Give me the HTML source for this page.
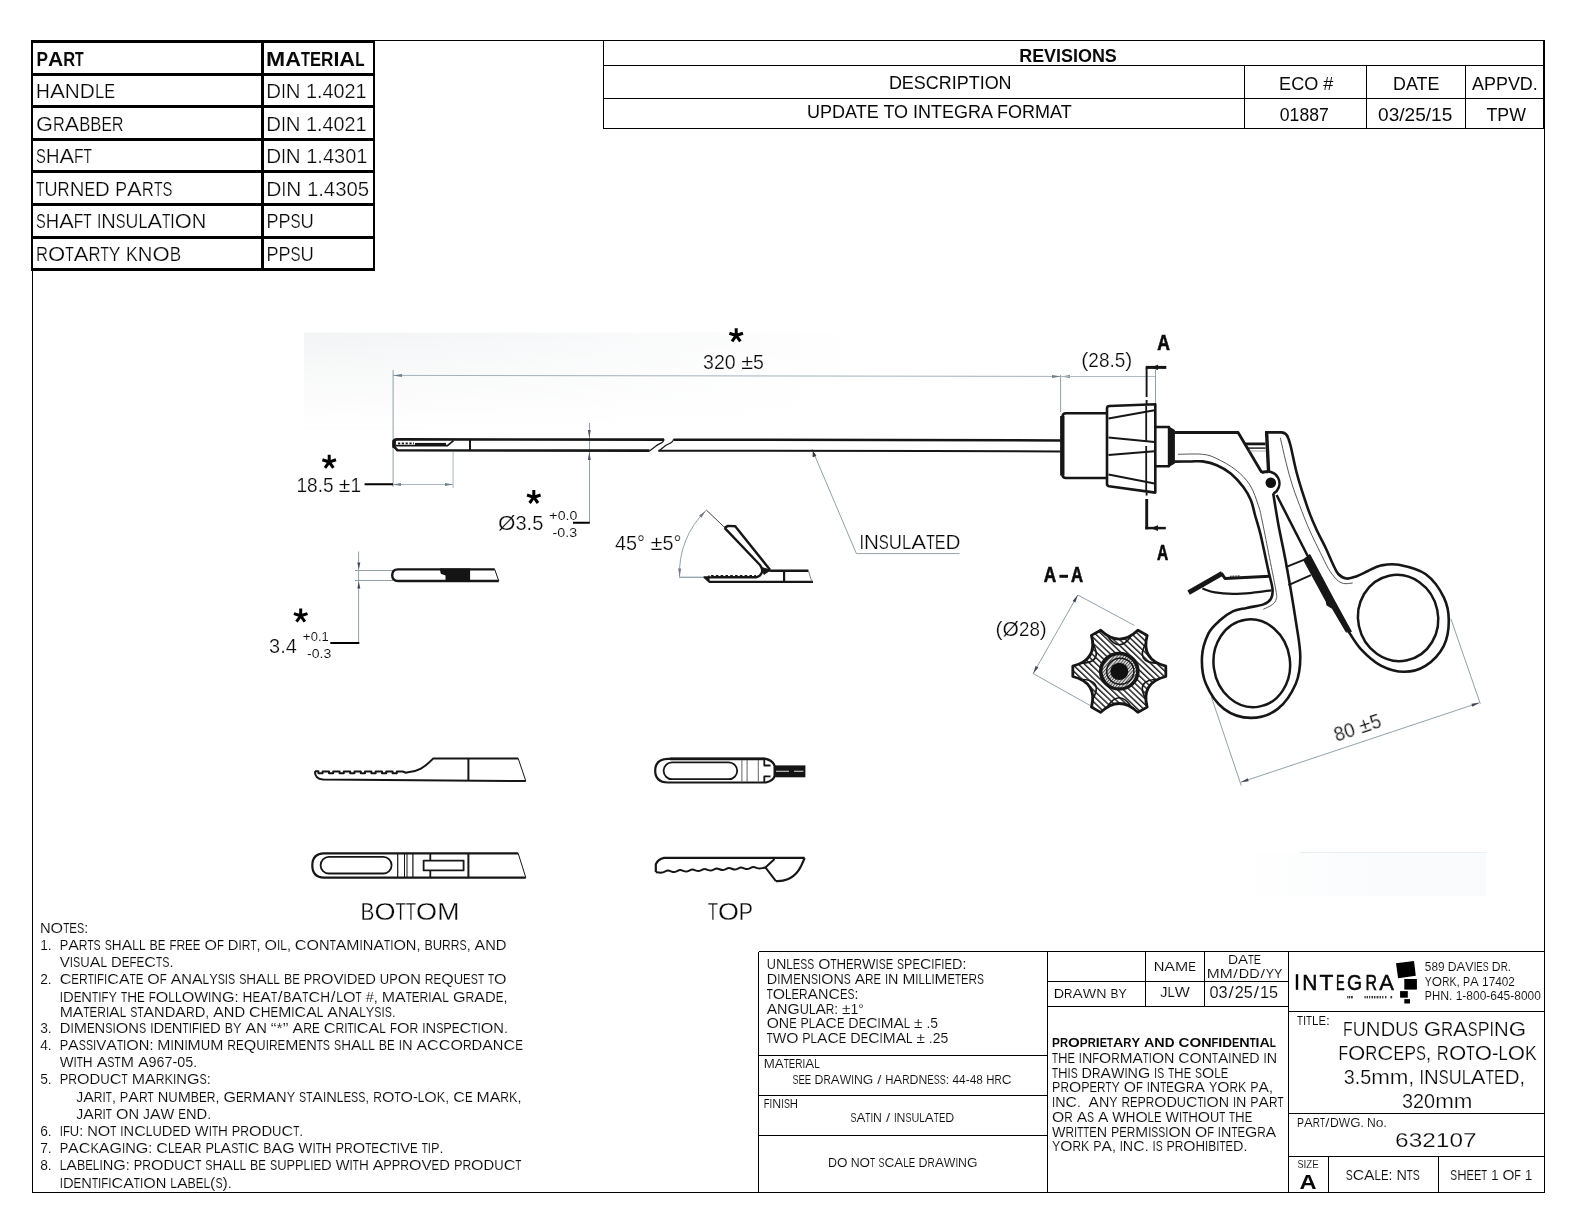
<!DOCTYPE html>
<html><head><meta charset="utf-8"><title>632107 Fundus Grasping Forceps</title>
<style>
html,body{margin:0;padding:0;background:#fff;}
body{width:1584px;height:1224px;overflow:hidden;font-family:"Liberation Sans",sans-serif;}
svg{display:block;will-change:transform;}
svg text{font-family:"Liberation Sans",sans-serif;fill:#0a0a0a;}
</style></head><body>
<svg width="1584" height="1224" viewBox="0 0 1584 1224">
<g id="frame" stroke="#000" fill="none" shape-rendering="crispEdges">
<path d="M374 40.5H1544 M32.5 270V1192.5H1545" stroke-width="1"/>
<path d="M1544.5 40V1193" stroke-width="1"/>
<path d="M1543.5 40V129" stroke-width="1"/>
<g stroke-width="3">
<path d="M31 41.5H375"/>
<path d="M31 74.0H375"/>
<path d="M31 106.6H375"/>
<path d="M31 139.2H375"/>
<path d="M31 171.9H375"/>
<path d="M31 204.5H375"/>
<path d="M31 237.1H375"/>
<path d="M31 269.6H375"/>
<path d="M262.5 40V271"/>
</g>
<path d="M32 40V271 M374 40V271" stroke-width="2"/>
<path d="M603.5 40V128.5 M603.5 65.5H1544 M603.5 98.5H1544 M603.5 128.5H1544 M1244.5 65.5V128.5 M1366.5 65.5V128.5 M1465.5 65.5V128.5" stroke-width="1"/>
<path d="M758.5 951.5V1192.5 M758.5 951.5H1544 M1047.5 951.5V1192.5 M1288.5 951.5V1192.5 M758.5 1055.5H1047.5 M758.5 1095.5H1047.5 M758.5 1135.5H1047.5 M1047.5 981.5H1288.5 M1047.5 1006.5H1288.5 M1145.5 951.5V1006.5 M1204.5 951.5V1006.5 M1288.5 1011.5H1544 M1288.5 1113.5H1544 M1288.5 1156.5H1544 M1328.5 1156.5V1192.5 M1438.5 1156.5V1192.5" stroke-width="1"/>
</g>
<defs><linearGradient id="tint" x1="0" y1="0" x2="1" y2="0"><stop offset="0" stop-color="#f3f4f5"/><stop offset="0.45" stop-color="#f7f8f9"/><stop offset="1" stop-color="#ffffff"/></linearGradient><linearGradient id="tintv" x1="0" y1="0" x2="0" y2="1"><stop offset="0" stop-color="#fff" stop-opacity="0"/><stop offset="1" stop-color="#fff" stop-opacity="1"/></linearGradient><pattern id="hatch" width="4.3" height="4.3" patternUnits="userSpaceOnUse" patternTransform="rotate(-45)"><rect width="4.3" height="4.3" fill="#fff"/><rect width="1.5" height="4.3" fill="#222"/></pattern><pattern id="hatch2" width="2.4" height="2.4" patternUnits="userSpaceOnUse" patternTransform="rotate(40)"><rect width="2.4" height="2.4" fill="#e8e8e8"/><rect width="1" height="2.4" fill="#444"/></pattern></defs>
<rect x="304" y="332.5" width="560" height="95" fill="url(#tint)"/>
<rect x="304" y="332.5" width="560" height="95" fill="url(#tintv)"/>
<linearGradient id="tint2" x1="0" y1="0" x2="1" y2="0"><stop offset="0" stop-color="#ffffff"/><stop offset="0.5" stop-color="#fbfcfd"/><stop offset="1" stop-color="#f8fafc"/></linearGradient>
<rect x="1230" y="853" width="256" height="43" fill="url(#tint2)"/>
<path d="M1300 852.5H1486" stroke="#e9eef3" stroke-width="1"/>
<g id="dims" stroke="#8696a0" stroke-width="0.9" fill="none">
<path d="M393 375.4L1061 376.4" stroke="#9aa9b2"/>
<path d="M393.1 370V487"/>
<path d="M393 375.5l9 -1.6v3.2z M1061 376.5l-9 -1.6v3.2z M1061 376.5l9 -1.6v3.2z" fill="#6d7f88" stroke="none"/>
<path d="M1061 376.5H1155.5" stroke="#a8b5bc"/><path d="M1060.6 375V412 M1155.5 370V404"/>
<path d="M393 484.5H453 M453.1 452V488" stroke="#9fb0b8"/>
<path d="M393 484.5l8 -1.5v3z M453 484.5l-8 -1.5v3z" fill="#6d7f88" stroke="none"/>
<path d="M589.5 423V523"/>
<path d="M589.3 438l-1.5 -8h3z M589.3 452l-1.5 8h3z" fill="#556" stroke="none"/>
<path d="M812 449L856.4 553.6H959.5"/>
<path d="M813.2 452l2.6 3.6l-2.8 1.2z" fill="#333" stroke="#333"/>
<path d="M358.6 551.5V643 M355 570.5H393 M355 580.5H393"/>
<path d="M358.8 569.5l-1.5 -7h3z M358.8 581.5l-1.5 7h3z" fill="#445" stroke="none"/>
<path d="M679.6 577.3A86.5 86.5 0 0 1 706.4 510.1"/>
<path d="M679 577.3H705" stroke-width="1.4" stroke="#9aa9b1"/>
<path d="M706.4 510.1L725 527.8" stroke="#333" stroke-width="0.9"/>
<path d="M705.5 511l-6.5 4.5l2.5 2.3z M679.7 576.5l-1.6 -8h3z" fill="#778" stroke="none"/>
<path d="M1077.8 595L1033.2 673.6 M1077.8 595L1134.5 625.5 M1033.2 673.6L1089.8 705.3"/>
<path d="M1077.8 595l-2.4 7.6l-2.8 -1.6z M1033.2 673.6l2.4 -7.6l2.8 1.6z" fill="#445" stroke="none"/>
<path d="M1240.7 782.3L1479.4 702.7 M1211.4 697L1241.3 785.7 M1450.9 618.8L1480.3 703.7"/>
<path d="M1240.7 782.3l8 -1l-1 -3z M1479.4 702.7l-8 1l1 3z" fill="#445" stroke="none"/>
</g>
<path d="M364.6 484.3H393 M573 522.8H589.8 M330.3 643.1H359.3" stroke="#000" stroke-width="2" fill="none"/>
<g id="instrument" stroke="#161616" fill="none" stroke-linejoin="round">
<path d="M664 439.6L397 439.4Q393.6 439.4 393.6 442.5V446.2L397.5 450.3L649.5 450.6" stroke-width="2.6"/>
<path d="M394.2 440V448" stroke-width="3.4"/>
<path d="M396 445.6H447.5L453.5 440.6" stroke-width="1.8"/>
<path d="M415 444.1H446" stroke-width="2.4"/>
<path d="M398 443.4H414" stroke-width="1.6" stroke-dasharray="2.2 1.6"/>
<path d="M470 440V450" stroke-width="2"/>
<path d="M664 439.2C664 443.5 659 443 656 446L649.5 451" stroke-width="1.2"/>
<path d="M673.5 439.2C673 443.5 668 443.5 665 446L658.5 451.2" stroke-width="1.2"/>
<path d="M673.5 439.7L1061 440.4" stroke-width="2.5"/>
<path d="M658.5 450.7L930 451L1061 451.4" stroke-width="2"/>
<path d="M1107 413.3H1066Q1062.5 413.3 1062.5 417V474.5Q1062.5 478 1066 478H1107" stroke-width="2.6"/>
<path d="M1062.3 416V475.5" stroke-width="4.4"/>
<path d="M1109.5 406L1155.3 404.3V492.6L1109 486.2Q1107 485.8 1107 484V408.4Q1107 406.2 1109.5 406Z" stroke-width="2.6"/>
<path d="M1108.5 418.6L1154.5 410.3 M1108.5 437.4L1154.5 441.9 M1108.5 455.1L1154.5 451.2 M1108.5 474.5L1154.5 483.4" stroke-width="2"/>
<path d="M1146.2 406V441 M1146.2 446V491" stroke-width="1.8"/>
<path d="M1146.6 367.4V397 M1146.6 400V404 M1146.6 492.5V495.5" stroke-width="1.9"/>
<path d="M1146.7 499V529.3" stroke-width="2.9"/>
<path d="M1145.7 367.4H1166.3" stroke-width="3"/>
<path d="M1145.3 528.1H1165.8" stroke-width="2.5"/>
<path d="M1150 367.4l8 -2.6v5.2z M1150.6 528.1l7.4 -2.8v5.6z" fill="#161616" stroke="none"/>
<path d="M1155.3 427H1169V466.2H1155.3" stroke-width="2.4"/>
<path d="M1168.5 426.2L1174.9 430V463.6L1168.5 467.2Z" fill="#161616" stroke="none"/>
<path d="M1174.5 432.5H1238.1L1261.3 471.8H1268" stroke-width="2.8"/>
<path d="M1174.7 461.6C1177.2 461.6 1185.3 461.5 1190.0 461.5C1194.7 461.5 1198.1 460.8 1202.6 461.4C1207.1 462.0 1212.1 463.1 1216.8 465.2C1221.5 467.2 1226.6 470.1 1231.0 473.7C1235.4 477.3 1240.0 482.6 1243.3 487.0C1246.6 491.4 1249.0 495.5 1250.9 500.2C1252.9 504.9 1253.4 509.2 1255.0 515.0C1256.6 520.8 1258.4 525.5 1260.6 534.8C1262.8 544.1 1266.4 561.7 1268.4 570.7C1270.4 579.7 1272.1 584.4 1272.5 589.0C1272.9 593.6 1272.5 596.0 1271.0 598.6C1269.5 601.2 1267.5 602.9 1263.5 604.4C1259.5 605.9 1251.8 606.7 1246.7 607.9C1241.6 609.1 1237.2 609.3 1232.8 611.4C1228.3 613.5 1224.0 616.6 1220.0 620.3C1216.0 624.0 1211.5 627.3 1208.5 633.4C1205.5 639.5 1202.4 648.4 1202.0 656.8C1201.6 665.2 1202.2 675.1 1205.9 683.8C1209.6 692.5 1216.4 703.2 1223.9 708.9C1231.4 714.6 1241.9 717.9 1250.9 717.9C1259.9 717.9 1270.3 714.6 1277.8 708.9C1285.3 703.2 1292.0 692.5 1295.8 683.8C1299.5 675.1 1300.3 667.3 1300.3 656.8C1300.3 646.3 1298.2 636.8 1295.8 620.9C1293.4 605.0 1288.7 577.6 1285.8 561.7C1282.9 545.9 1280.7 537.2 1278.6 525.8C1276.5 514.4 1274.1 498.8 1273.2 493.4" stroke-width="2.6"/>
<path d="M1178.0 454.3C1182.1 454.3 1196.1 453.6 1202.6 454.3C1209.1 455.0 1211.3 456.0 1216.8 458.6C1222.3 461.2 1230.3 465.5 1235.8 469.9C1241.3 474.3 1246.2 479.1 1250.0 485.1C1253.8 491.1 1256.5 500.1 1258.5 505.9C1260.5 511.7 1260.3 512.2 1262.0 520.0C1263.7 527.8 1266.2 541.1 1268.5 552.7C1270.8 564.4 1274.5 582.2 1275.8 589.9C1277.1 597.6 1276.9 596.4 1276.3 598.9C1275.7 601.4 1274.6 602.9 1272.4 604.6C1270.2 606.3 1264.8 608.5 1263.3 609.3" stroke-width="0.9" stroke="#444"/>
<ellipse cx="1251.8" cy="663.3" rx="38.2" ry="44" transform="rotate(-8 1251.8 663.3)" stroke-width="2.5"/>
<path d="M1244.3 443.9H1265.5" stroke-width="2.8"/>
<path d="M1246.8 448.1H1265.5" stroke-width="1.4"/>
<path d="M1248.5 451H1265.5" stroke-width="0.6" stroke="#777"/>
<path d="M1268.6 472L1266.6 432.4" stroke-width="3.4"/>
<path d="M1265 432.4H1281.5Q1286.6 432.8 1288.2 438" stroke-width="2.8"/>
<path d="M1288.2 438.0C1288.6 439.4 1289.3 440.7 1290.7 446.3C1292.1 451.9 1294.5 464.4 1296.4 471.8C1298.3 479.2 1299.7 483.7 1302.0 490.8C1304.3 497.9 1307.5 507.9 1310.0 514.4C1312.5 520.9 1314.1 524.4 1316.7 530.0C1319.3 535.6 1323.0 542.3 1325.7 548.0C1328.4 553.7 1330.8 559.8 1332.9 564.1C1335.0 568.4 1336.0 571.6 1338.3 574.0C1340.5 576.4 1343.6 578.0 1346.4 578.5C1349.2 579.0 1351.8 578.0 1355.4 576.7C1359.0 575.5 1363.8 572.9 1368.0 571.0C1372.2 569.1 1375.8 566.5 1380.9 565.5C1386.0 564.5 1391.3 563.3 1398.8 564.8C1406.3 566.3 1418.3 568.9 1425.8 574.3C1433.3 579.7 1440.0 589.6 1443.8 597.3C1447.6 605.0 1448.8 612.5 1448.8 620.6C1448.8 628.7 1447.6 638.3 1443.8 645.8C1440.0 653.3 1432.4 661.3 1425.8 665.6C1419.2 669.9 1411.7 671.8 1404.2 671.8C1396.7 671.8 1388.1 669.3 1380.9 665.6C1373.7 661.9 1366.5 655.1 1361.1 649.4C1355.7 643.7 1350.6 634.4 1348.5 631.4" stroke-width="2.6"/>
<path d="M1280.3 437.7C1281.2 441.8 1284.0 454.2 1286.0 462.3C1288.0 470.4 1289.9 477.8 1292.6 486.0C1295.3 494.2 1299.2 504.3 1302.0 511.6C1304.8 518.9 1306.5 523.2 1309.5 530.0C1312.5 536.8 1317.1 546.1 1320.3 552.5C1323.5 558.9 1325.7 564.1 1328.4 568.6C1331.1 573.1 1334.0 576.9 1336.5 579.4C1339.0 581.9 1341.0 582.9 1343.7 583.5C1346.4 584.1 1351.2 583.1 1352.7 583.0" stroke-width="0.9" stroke="#444"/>
<ellipse cx="1398.1" cy="618" rx="40" ry="43.2" transform="rotate(-12 1398.1 618)" stroke-width="2.5"/>
<path d="M1262 473A11 11 0 1 1 1273.4 493.6" stroke-width="2.4"/>
<circle cx="1270.8" cy="482.7" r="5.3" fill="#111" stroke="none"/>
<path d="M1276.6 495L1307.7 556" stroke-width="2.5"/>
<path d="M1303.6 559.8L1309.8 554.8L1333.4 599L1351.2 631.5L1346.2 631.8L1332.6 608.6L1327.1 605L1326.2 601.2Z" fill="#161616" stroke-width="1.2"/>
<path d="M1285.8 567.1L1303.8 559.9 M1288.5 585.1L1310.9 575.2" stroke-width="2"/>
<path d="M1188.6 592.6L1222.2 573.4" stroke-width="5"/>
<path d="M1221.4 573.2L1225 578.5L1269.7 576.2" stroke-width="3"/>
<path d="M1230 576.4L1240 575.9" stroke-width="1.4" stroke-dasharray="0.8 0.8"/>
<path d="M1202.3 588.5C1204.4 589.1 1209.9 591.5 1215.0 592.4C1220.1 593.3 1226.7 593.8 1232.9 593.9C1239.1 594.0 1245.6 593.4 1252.0 592.8C1258.4 592.2 1268.2 590.7 1271.5 590.3" stroke-width="2.2"/>
</g>
<g transform="translate(0 671.3) scale(1 0.955) translate(0 -671.3)">
<path d="M1165.8 676.7L1165.8 665.9Q1140.5 659.0 1147.2 633.7L1137.9 628.3Q1119.3 646.8 1100.7 628.3L1091.4 633.7Q1098.1 659.0 1072.8 665.9L1072.8 676.7Q1098.1 683.5 1091.4 708.9L1100.7 714.3Q1119.3 695.8 1137.9 714.3L1147.2 708.9Q1140.5 683.5 1165.8 676.7Z" fill="url(#hatch)" stroke="#161616" stroke-width="2.8" stroke-linejoin="round"/>
<path d="M1158.4 663.0Q1134.5 662.5 1146.1 641.6M1131.7 633.3Q1119.3 653.8 1106.9 633.3M1092.5 641.6Q1104.1 662.5 1080.2 663.0M1080.2 679.6Q1104.1 680.0 1092.5 701.0M1106.9 709.3Q1119.3 688.8 1131.7 709.3M1146.1 701.0Q1134.5 680.0 1158.4 679.6" fill="none" stroke="#161616" stroke-width="1.7"/>
<circle cx="1119.3" cy="671.3" r="18.6" fill="url(#hatch2)" stroke="#161616" stroke-width="3.6"/>
<circle cx="1120.3" cy="671.3" r="13.6" fill="none" stroke="#161616" stroke-width="1.5"/>
<circle cx="1119.3" cy="671.3" r="9" fill="#101010"/>
</g>
<g id="views" stroke="#161616" fill="none" stroke-linejoin="round">
<path d="M494.7 569.4H398Q392.2 569.6 392.2 575.2Q392.2 580.8 398 581H498.8" stroke-width="2.4"/>
<path d="M494.7 569.4L498.8 581" stroke-width="1"/>
<path d="M439.7 568.6H470.1V581.6H445.5V575.6L440.8 573.8Z" fill="#141414" stroke="none"/>
<path d="M724.6 527.9L728 525.9L735.2 526.3L770 569.7" stroke-width="2.4"/>
<path d="M724.6 527.9L760 565Q763 569 762 572Q761 576 756 577.3H712" stroke-width="2.4"/>
<path d="M712 577.3L704.5 577.3L709.4 581.8H813" stroke-width="2.2"/>
<path d="M707 578.5L709 575.6V581Z" fill="#161616" stroke-width="1"/>
<path d="M711 575.7H756" stroke-width="1.6" stroke-dasharray="2.6 2.2"/>
<path d="M763 569L770.5 570.7H808.4" stroke-width="2.4"/>
<path d="M761 567L770 570.5L764 574.5Z" fill="#161616" stroke-width="0.8"/>
<path d="M784.1 570.7V581.8" stroke-width="2.2"/>
<path d="M808.4 570.7L811.8 581.8" stroke-width="0.8" stroke="#667"/>
<path d="M315 771.3H318.4V773.3H322.6V771.5H329.0V773.3H333.2V771.5H339.6V773.3H343.8V771.5H350.2V773.3H354.4V771.5H360.8V773.3H365.0V771.5H371.4V773.3H375.6V771.5H382.0V773.3H386.2V771.5H392.6V773.3H396.8V771.5H402.8L405.8 772.7L408 772.2C418 771.5 424 768 433.3 758.4H518.2" stroke-width="2"/>
<path d="M315 771.3Q314.6 778.5 323 779.6L525.8 781" stroke-width="2"/>
<path d="M518.2 758.4L525.8 781" stroke-width="1"/>
<path d="M468.4 758.4V781" stroke-width="2"/>
<path d="M518.2 853.4H324Q312.3 853.8 312.3 865.5Q312.3 877.2 324 877.6H525.8" stroke-width="2.2"/>
<path d="M518.2 853.4L525.8 877.6" stroke-width="1"/>
<rect x="320.6" y="856.9" width="71" height="16.6" rx="8.3" ry="8.3" stroke-width="1.8"/>
<path d="M397.7 854V877 M412.9 854V877" stroke-width="1.2"/>
<path d="M404.5 854V877 M407 854V877" stroke-width="1"/>
<rect x="423.6" y="860.6" width="40" height="9.8" stroke-width="1.8"/>
<path d="M430.3 854V860.6 M430.3 870.4V877" stroke-width="1.8"/>
<path d="M468.4 853.4V877.6" stroke-width="2"/>
<path d="M766 758.9H668Q655.2 759.3 655.2 770.7Q655.2 782.1 668 782.5H766Q773.5 780.5 774.6 776V766Q773.5 761 766 758.9Z" stroke-width="2.2"/>
<path d="M670 758.9H765" stroke-width="2.8"/>
<rect x="663.6" y="762.4" width="73.6" height="16.8" rx="8.4" ry="8.4" stroke-width="1.8"/>
<path d="M741.9 760V781.5 M747.1 760V781.5 M758.3 760V781.5" stroke-width="0.9" stroke="#555"/>
<path d="M764.3 759.5V765.5H770.5 M764.3 782V776.4H770.5" stroke-width="1.8"/>
<rect x="774.6" y="765.4" width="30.8" height="11.9" fill="#141414" stroke="none"/>
<path d="M776 771.2H789 M794 771.2H803.5" stroke="#ddd" stroke-width="1.1"/>
<path d="M804.6 857.8H664Q658 859 655.8 864.2V872" stroke-width="2.2"/>
<path d="M655.8 872.2C656.8 872.3 659.9 872.9 661.9 872.6C663.9 872.4 665.9 870.7 668.0 870.6C670.0 870.5 672.0 872.2 674.1 872.1C676.1 872.0 678.1 870.2 680.2 870.1C682.2 870.0 684.2 871.7 686.2 871.6C688.3 871.5 690.3 869.7 692.3 869.6C694.4 869.5 696.4 871.2 698.4 871.1C700.5 871.0 702.5 869.1 704.5 869.1C706.5 869.0 708.6 870.7 710.6 870.6C712.6 870.5 714.7 868.6 716.7 868.5C718.7 868.5 720.7 870.2 722.8 870.1C724.8 870.0 726.8 868.1 728.9 868.0C730.9 867.9 732.9 869.7 735.0 869.6C737.0 869.5 739.0 867.6 741.0 867.5C743.1 867.4 745.1 869.2 747.1 869.1C749.2 869.0 751.2 867.1 753.2 867.0C755.3 866.9 757.3 868.5 759.3 868.6C761.3 868.6 764.4 867.6 765.4 867.4" stroke-width="2"/>
<path d="M774.6 858.9L765.4 867.4L775.9 881.1" stroke-width="2"/>
<path d="M775.9 881.1C777.1 881.0 780.6 881.1 783.0 880.6C785.4 880.1 788.0 879.3 790.3 878.0C792.5 876.7 794.8 874.9 796.5 873.0C798.2 871.1 799.4 869.2 800.7 866.7C802.1 864.2 804.0 859.3 804.6 857.8" stroke-width="2.2"/>
</g>
<g id="dimtext">
<g font-size="19.49" transform="translate(0 368.60)" stroke="#fff" stroke-width="0.23"><text x="703.08" textLength="10.88" lengthAdjust="spacingAndGlyphs">3</text><text x="713.96" textLength="10.88" lengthAdjust="spacingAndGlyphs">2</text><text x="724.83" textLength="10.88" lengthAdjust="spacingAndGlyphs">0</text><text x="741.15" textLength="11.90" lengthAdjust="spacingAndGlyphs">±</text><text x="753.04" textLength="10.88" lengthAdjust="spacingAndGlyphs">5</text></g>
<g font-size="19.49" transform="translate(0 491.70)" stroke="#fff" stroke-width="0.23"><text x="296.48" textLength="10.59" lengthAdjust="spacingAndGlyphs">1</text><text x="307.07" textLength="10.59" lengthAdjust="spacingAndGlyphs">8</text><text x="317.66" textLength="5.30" lengthAdjust="spacingAndGlyphs">.</text><text x="322.96" textLength="10.59" lengthAdjust="spacingAndGlyphs">5</text><text x="338.84" textLength="11.58" lengthAdjust="spacingAndGlyphs">±</text><text x="350.43" textLength="10.59" lengthAdjust="spacingAndGlyphs">1</text></g>
<g font-size="19.49" transform="translate(0 529.60)" stroke="#fff" stroke-width="0.23"><text x="497.98" textLength="17.47" lengthAdjust="spacingAndGlyphs">Ø</text><text x="515.45" textLength="11.15" lengthAdjust="spacingAndGlyphs">3</text><text x="526.60" textLength="5.57" lengthAdjust="spacingAndGlyphs">.</text><text x="532.17" textLength="11.15" lengthAdjust="spacingAndGlyphs">5</text></g>
<g font-size="12.62" transform="translate(0 519.50)" stroke="#fff" stroke-width="0.09"><text x="549.06" textLength="8.61" lengthAdjust="spacingAndGlyphs">+</text><text x="557.67" textLength="7.87" lengthAdjust="spacingAndGlyphs">0</text><text x="565.54" textLength="3.94" lengthAdjust="spacingAndGlyphs">.</text><text x="569.47" textLength="7.87" lengthAdjust="spacingAndGlyphs">0</text></g>
<g font-size="12.62" transform="translate(0 536.70)" stroke="#fff" stroke-width="0.09"><text x="552.56" textLength="4.75" lengthAdjust="spacingAndGlyphs">-</text><text x="557.31" textLength="7.93" lengthAdjust="spacingAndGlyphs">0</text><text x="565.24" textLength="3.97" lengthAdjust="spacingAndGlyphs">.</text><text x="569.21" textLength="7.93" lengthAdjust="spacingAndGlyphs">3</text></g>
<g font-size="19.49" transform="translate(0 652.90)" stroke="#fff" stroke-width="0.23"><text x="269.08" textLength="11.09" lengthAdjust="spacingAndGlyphs">3</text><text x="280.18" textLength="5.55" lengthAdjust="spacingAndGlyphs">.</text><text x="285.73" textLength="11.09" lengthAdjust="spacingAndGlyphs">4</text></g>
<g font-size="12.62" transform="translate(0 640.50)" stroke="#fff" stroke-width="0.09"><text x="302.86" textLength="7.88" lengthAdjust="spacingAndGlyphs">+</text><text x="310.74" textLength="7.20" lengthAdjust="spacingAndGlyphs">0</text><text x="317.94" textLength="3.60" lengthAdjust="spacingAndGlyphs">.</text><text x="321.54" textLength="7.20" lengthAdjust="spacingAndGlyphs">1</text></g>
<g font-size="12.62" transform="translate(0 657.90)" stroke="#fff" stroke-width="0.09"><text x="306.96" textLength="4.70" lengthAdjust="spacingAndGlyphs">-</text><text x="311.65" textLength="7.84" lengthAdjust="spacingAndGlyphs">0</text><text x="319.49" textLength="3.92" lengthAdjust="spacingAndGlyphs">.</text><text x="323.41" textLength="7.84" lengthAdjust="spacingAndGlyphs">3</text></g>
<g font-size="19.49" transform="translate(0 550.10)" stroke="#fff" stroke-width="0.23"><text x="614.98" textLength="11.02" lengthAdjust="spacingAndGlyphs">4</text><text x="626.00" textLength="11.02" lengthAdjust="spacingAndGlyphs">5</text><text x="637.02" textLength="7.96" lengthAdjust="spacingAndGlyphs">°</text><text x="650.49" textLength="12.05" lengthAdjust="spacingAndGlyphs">±</text><text x="662.54" textLength="11.02" lengthAdjust="spacingAndGlyphs">5</text><text x="673.56" textLength="7.96" lengthAdjust="spacingAndGlyphs">°</text></g>
<g font-size="19.49" transform="translate(0 548.60)" stroke="#fff" stroke-width="0.23"><text x="859.38" textLength="4.55" lengthAdjust="spacingAndGlyphs">I</text><text x="863.93" textLength="14.89" lengthAdjust="spacingAndGlyphs">N</text><text x="878.82" textLength="10.02" lengthAdjust="spacingAndGlyphs">S</text><text x="888.84" textLength="13.18" lengthAdjust="spacingAndGlyphs">U</text><text x="902.01" textLength="9.29" lengthAdjust="spacingAndGlyphs">L</text><text x="911.31" textLength="14.89" lengthAdjust="spacingAndGlyphs">A</text><text x="926.20" textLength="8.57" lengthAdjust="spacingAndGlyphs">T</text><text x="934.77" textLength="10.78" lengthAdjust="spacingAndGlyphs">E</text><text x="945.55" textLength="14.97" lengthAdjust="spacingAndGlyphs">D</text></g>
<g font-size="19.49" transform="translate(0 367.10)" stroke="#fff" stroke-width="0.23"><text x="1081.28" textLength="7.05" lengthAdjust="spacingAndGlyphs">(</text><text x="1088.33" textLength="10.58" lengthAdjust="spacingAndGlyphs">2</text><text x="1098.91" textLength="10.58" lengthAdjust="spacingAndGlyphs">8</text><text x="1109.50" textLength="5.29" lengthAdjust="spacingAndGlyphs">.</text><text x="1114.79" textLength="10.58" lengthAdjust="spacingAndGlyphs">5</text><text x="1125.37" textLength="7.05" lengthAdjust="spacingAndGlyphs">)</text></g>
<g font-size="19.49" transform="translate(0 635.50)" stroke="#fff" stroke-width="0.23"><text x="995.58" textLength="6.97" lengthAdjust="spacingAndGlyphs">(</text><text x="1002.55" textLength="16.39" lengthAdjust="spacingAndGlyphs">Ø</text><text x="1018.93" textLength="10.46" lengthAdjust="spacingAndGlyphs">2</text><text x="1029.39" textLength="10.46" lengthAdjust="spacingAndGlyphs">8</text><text x="1039.85" textLength="6.97" lengthAdjust="spacingAndGlyphs">)</text></g>
<g transform="translate(1337.3 741.6) rotate(-18.4)"><g font-size="19.49" transform="translate(0 0.00)" stroke="#fff" stroke-width="0.23"><text x="-0.72" textLength="10.54" lengthAdjust="spacingAndGlyphs">8</text><text x="9.83" textLength="10.54" lengthAdjust="spacingAndGlyphs">0</text><text x="25.64" textLength="11.53" lengthAdjust="spacingAndGlyphs">±</text><text x="37.18" textLength="10.54" lengthAdjust="spacingAndGlyphs">5</text></g></g>
<g font-size="23.23" transform="translate(0 919.60)" stroke="#fff" stroke-width="0.28"><text x="360.56" textLength="13.90" lengthAdjust="spacingAndGlyphs">B</text><text x="374.46" textLength="21.04" lengthAdjust="spacingAndGlyphs">O</text><text x="395.51" textLength="10.32" lengthAdjust="spacingAndGlyphs">T</text><text x="405.82" textLength="10.32" lengthAdjust="spacingAndGlyphs">T</text><text x="416.14" textLength="21.04" lengthAdjust="spacingAndGlyphs">O</text><text x="437.18" textLength="22.26" lengthAdjust="spacingAndGlyphs">M</text></g>
<g font-size="23.23" transform="translate(0 919.60)" stroke="#fff" stroke-width="0.28"><text x="707.66" textLength="10.24" lengthAdjust="spacingAndGlyphs">T</text><text x="717.91" textLength="20.90" lengthAdjust="spacingAndGlyphs">O</text><text x="738.80" textLength="14.24" lengthAdjust="spacingAndGlyphs">P</text></g>
<text x="1157.30" y="350.40" font-size="22.22" textLength="12.64" lengthAdjust="spacingAndGlyphs" font-weight="700" stroke="#111" stroke-width="0.7">A</text>
<text x="1157.10" y="559.60" font-size="21.82" textLength="11.23" lengthAdjust="spacingAndGlyphs" font-weight="700" stroke="#111" stroke-width="0.7">A</text>
<text x="1043.70" y="581.70" font-size="22.62" textLength="12.44" lengthAdjust="spacingAndGlyphs" font-weight="700" stroke="#111" stroke-width="0.7">A</text>
<text x="1071.10" y="581.70" font-size="22.62" textLength="12.04" lengthAdjust="spacingAndGlyphs" font-weight="700" stroke="#111" stroke-width="0.7">A</text>
<rect x="1059.4" y="574.8" width="8.6" height="3" fill="#111"/>
</g>
<path d="M736.2 335.5L736.2 328.3M736.2 335.5L729.4 333.3M736.2 335.5L743.0 333.3M736.2 335.5L732.0 341.3M736.2 335.5L740.4 341.3" stroke="#000" stroke-width="3.0" fill="none"/>
<path d="M329.2 462.0L329.2 454.8M329.2 462.0L322.4 459.8M329.2 462.0L336.0 459.8M329.2 462.0L325.0 467.8M329.2 462.0L333.4 467.8" stroke="#000" stroke-width="3.0" fill="none"/>
<path d="M533.8 497.2L533.8 490.0M533.8 497.2L527.0 495.0M533.8 497.2L540.6 495.0M533.8 497.2L529.6 503.0M533.8 497.2L538.0 503.0" stroke="#000" stroke-width="3.0" fill="none"/>
<path d="M300.7 615.8L300.7 608.6M300.7 615.8L293.9 613.6M300.7 615.8L307.5 613.6M300.7 615.8L296.5 621.6M300.7 615.8L304.9 621.6" stroke="#000" stroke-width="3.0" fill="none"/>
<g id="text">
<g font-size="19.9" transform="translate(0 66.00)" font-weight="700"><text x="36.40" textLength="11.52" lengthAdjust="spacingAndGlyphs">P</text><text x="47.92" textLength="15.22" lengthAdjust="spacingAndGlyphs">A</text><text x="63.13" textLength="11.93" lengthAdjust="spacingAndGlyphs">R</text><text x="75.06" textLength="8.64" lengthAdjust="spacingAndGlyphs">T</text></g>
<g font-size="19.9" transform="translate(0 66.00)" font-weight="700"><text x="266.10" textLength="19.17" lengthAdjust="spacingAndGlyphs">M</text><text x="285.27" textLength="15.76" lengthAdjust="spacingAndGlyphs">A</text><text x="301.03" textLength="8.95" lengthAdjust="spacingAndGlyphs">T</text><text x="309.97" textLength="11.08" lengthAdjust="spacingAndGlyphs">E</text><text x="321.05" textLength="12.35" lengthAdjust="spacingAndGlyphs">R</text><text x="333.40" textLength="5.96" lengthAdjust="spacingAndGlyphs">I</text><text x="339.37" textLength="15.76" lengthAdjust="spacingAndGlyphs">A</text><text x="355.13" textLength="9.37" lengthAdjust="spacingAndGlyphs">L</text></g>
<g font-size="19.9" transform="translate(0 97.90)" stroke="#fff" stroke-width="0.24"><text x="36.08" textLength="13.82" lengthAdjust="spacingAndGlyphs">H</text><text x="49.90" textLength="14.98" lengthAdjust="spacingAndGlyphs">A</text><text x="64.88" textLength="14.98" lengthAdjust="spacingAndGlyphs">N</text><text x="79.86" textLength="15.06" lengthAdjust="spacingAndGlyphs">D</text><text x="94.92" textLength="9.35" lengthAdjust="spacingAndGlyphs">L</text><text x="104.27" textLength="10.85" lengthAdjust="spacingAndGlyphs">E</text></g>
<g font-size="19.9" transform="translate(0 97.90)" stroke="#fff" stroke-width="0.24"><text x="266.38" textLength="14.80" lengthAdjust="spacingAndGlyphs">D</text><text x="281.18" textLength="4.50" lengthAdjust="spacingAndGlyphs">I</text><text x="285.68" textLength="14.72" lengthAdjust="spacingAndGlyphs">N</text><text x="305.91" textLength="11.02" lengthAdjust="spacingAndGlyphs">1</text><text x="316.93" textLength="5.51" lengthAdjust="spacingAndGlyphs">.</text><text x="322.44" textLength="11.02" lengthAdjust="spacingAndGlyphs">4</text><text x="333.46" textLength="11.02" lengthAdjust="spacingAndGlyphs">0</text><text x="344.48" textLength="11.02" lengthAdjust="spacingAndGlyphs">2</text><text x="355.50" textLength="11.02" lengthAdjust="spacingAndGlyphs">1</text></g>
<g font-size="19.9" transform="translate(0 130.70)" stroke="#fff" stroke-width="0.24"><text x="36.08" textLength="16.93" lengthAdjust="spacingAndGlyphs">G</text><text x="53.01" textLength="11.78" lengthAdjust="spacingAndGlyphs">R</text><text x="64.79" textLength="14.36" lengthAdjust="spacingAndGlyphs">A</text><text x="79.15" textLength="11.14" lengthAdjust="spacingAndGlyphs">B</text><text x="90.29" textLength="11.14" lengthAdjust="spacingAndGlyphs">B</text><text x="101.44" textLength="10.40" lengthAdjust="spacingAndGlyphs">E</text><text x="111.84" textLength="11.78" lengthAdjust="spacingAndGlyphs">R</text></g>
<g font-size="19.9" transform="translate(0 130.70)" stroke="#fff" stroke-width="0.24"><text x="266.38" textLength="14.80" lengthAdjust="spacingAndGlyphs">D</text><text x="281.18" textLength="4.50" lengthAdjust="spacingAndGlyphs">I</text><text x="285.68" textLength="14.72" lengthAdjust="spacingAndGlyphs">N</text><text x="305.91" textLength="11.02" lengthAdjust="spacingAndGlyphs">1</text><text x="316.93" textLength="5.51" lengthAdjust="spacingAndGlyphs">.</text><text x="322.44" textLength="11.02" lengthAdjust="spacingAndGlyphs">4</text><text x="333.46" textLength="11.02" lengthAdjust="spacingAndGlyphs">0</text><text x="344.48" textLength="11.02" lengthAdjust="spacingAndGlyphs">2</text><text x="355.50" textLength="11.02" lengthAdjust="spacingAndGlyphs">1</text></g>
<g font-size="19.9" transform="translate(0 163.10)" stroke="#fff" stroke-width="0.24"><text x="36.08" textLength="9.84" lengthAdjust="spacingAndGlyphs">S</text><text x="45.92" textLength="13.49" lengthAdjust="spacingAndGlyphs">H</text><text x="59.41" textLength="14.62" lengthAdjust="spacingAndGlyphs">A</text><text x="74.02" textLength="9.58" lengthAdjust="spacingAndGlyphs">F</text><text x="83.60" textLength="8.41" lengthAdjust="spacingAndGlyphs">T</text></g>
<g font-size="19.9" transform="translate(0 163.10)" stroke="#fff" stroke-width="0.24"><text x="266.38" textLength="14.93" lengthAdjust="spacingAndGlyphs">D</text><text x="281.31" textLength="4.54" lengthAdjust="spacingAndGlyphs">I</text><text x="285.85" textLength="14.85" lengthAdjust="spacingAndGlyphs">N</text><text x="306.26" textLength="11.12" lengthAdjust="spacingAndGlyphs">1</text><text x="317.38" textLength="5.56" lengthAdjust="spacingAndGlyphs">.</text><text x="322.94" textLength="11.12" lengthAdjust="spacingAndGlyphs">4</text><text x="334.06" textLength="11.12" lengthAdjust="spacingAndGlyphs">3</text><text x="345.18" textLength="11.12" lengthAdjust="spacingAndGlyphs">0</text><text x="356.30" textLength="11.12" lengthAdjust="spacingAndGlyphs">1</text></g>
<g font-size="19.9" transform="translate(0 195.50)" stroke="#fff" stroke-width="0.24"><text x="36.08" textLength="8.48" lengthAdjust="spacingAndGlyphs">T</text><text x="44.56" textLength="13.03" lengthAdjust="spacingAndGlyphs">U</text><text x="57.59" textLength="12.08" lengthAdjust="spacingAndGlyphs">R</text><text x="69.66" textLength="14.72" lengthAdjust="spacingAndGlyphs">N</text><text x="84.38" textLength="10.66" lengthAdjust="spacingAndGlyphs">E</text><text x="95.05" textLength="14.80" lengthAdjust="spacingAndGlyphs">D</text><text x="115.36" textLength="11.78" lengthAdjust="spacingAndGlyphs">P</text><text x="127.14" textLength="14.72" lengthAdjust="spacingAndGlyphs">A</text><text x="141.86" textLength="12.08" lengthAdjust="spacingAndGlyphs">R</text><text x="153.94" textLength="8.48" lengthAdjust="spacingAndGlyphs">T</text><text x="162.41" textLength="9.91" lengthAdjust="spacingAndGlyphs">S</text></g>
<g font-size="19.9" transform="translate(0 195.50)" stroke="#fff" stroke-width="0.24"><text x="266.38" textLength="15.18" lengthAdjust="spacingAndGlyphs">D</text><text x="281.57" textLength="4.61" lengthAdjust="spacingAndGlyphs">I</text><text x="286.18" textLength="15.10" lengthAdjust="spacingAndGlyphs">N</text><text x="306.93" textLength="11.31" lengthAdjust="spacingAndGlyphs">1</text><text x="318.24" textLength="5.65" lengthAdjust="spacingAndGlyphs">.</text><text x="323.89" textLength="11.31" lengthAdjust="spacingAndGlyphs">4</text><text x="335.20" textLength="11.31" lengthAdjust="spacingAndGlyphs">3</text><text x="346.51" textLength="11.31" lengthAdjust="spacingAndGlyphs">0</text><text x="357.82" textLength="11.31" lengthAdjust="spacingAndGlyphs">5</text></g>
<g font-size="19.9" transform="translate(0 228.40)" stroke="#fff" stroke-width="0.24"><text x="36.08" textLength="9.75" lengthAdjust="spacingAndGlyphs">S</text><text x="45.83" textLength="13.37" lengthAdjust="spacingAndGlyphs">H</text><text x="59.20" textLength="14.49" lengthAdjust="spacingAndGlyphs">A</text><text x="73.69" textLength="9.49" lengthAdjust="spacingAndGlyphs">F</text><text x="83.18" textLength="8.34" lengthAdjust="spacingAndGlyphs">T</text><text x="96.94" textLength="4.42" lengthAdjust="spacingAndGlyphs">I</text><text x="101.37" textLength="14.49" lengthAdjust="spacingAndGlyphs">N</text><text x="115.86" textLength="9.75" lengthAdjust="spacingAndGlyphs">S</text><text x="125.61" textLength="12.82" lengthAdjust="spacingAndGlyphs">U</text><text x="138.43" textLength="9.04" lengthAdjust="spacingAndGlyphs">L</text><text x="147.47" textLength="14.49" lengthAdjust="spacingAndGlyphs">A</text><text x="161.96" textLength="8.34" lengthAdjust="spacingAndGlyphs">T</text><text x="170.30" textLength="4.42" lengthAdjust="spacingAndGlyphs">I</text><text x="174.72" textLength="17.01" lengthAdjust="spacingAndGlyphs">O</text><text x="191.74" textLength="14.49" lengthAdjust="spacingAndGlyphs">N</text></g>
<g font-size="19.9" transform="translate(0 228.40)" stroke="#fff" stroke-width="0.24"><text x="266.38" textLength="12.04" lengthAdjust="spacingAndGlyphs">P</text><text x="278.42" textLength="12.04" lengthAdjust="spacingAndGlyphs">P</text><text x="290.47" textLength="10.13" lengthAdjust="spacingAndGlyphs">S</text><text x="300.60" textLength="13.32" lengthAdjust="spacingAndGlyphs">U</text></g>
<g font-size="19.9" transform="translate(0 261.20)" stroke="#fff" stroke-width="0.24"><text x="36.08" textLength="12.02" lengthAdjust="spacingAndGlyphs">R</text><text x="48.10" textLength="17.21" lengthAdjust="spacingAndGlyphs">O</text><text x="65.31" textLength="8.44" lengthAdjust="spacingAndGlyphs">T</text><text x="73.75" textLength="14.66" lengthAdjust="spacingAndGlyphs">A</text><text x="88.41" textLength="12.02" lengthAdjust="spacingAndGlyphs">R</text><text x="100.43" textLength="8.44" lengthAdjust="spacingAndGlyphs">T</text><text x="108.87" textLength="11.73" lengthAdjust="spacingAndGlyphs">Y</text><text x="126.08" textLength="11.71" lengthAdjust="spacingAndGlyphs">K</text><text x="137.78" textLength="14.66" lengthAdjust="spacingAndGlyphs">N</text><text x="152.44" textLength="17.21" lengthAdjust="spacingAndGlyphs">O</text><text x="169.65" textLength="11.37" lengthAdjust="spacingAndGlyphs">B</text></g>
<g font-size="19.9" transform="translate(0 261.20)" stroke="#fff" stroke-width="0.24"><text x="266.38" textLength="12.04" lengthAdjust="spacingAndGlyphs">P</text><text x="278.42" textLength="12.04" lengthAdjust="spacingAndGlyphs">P</text><text x="290.47" textLength="10.13" lengthAdjust="spacingAndGlyphs">S</text><text x="300.60" textLength="13.32" lengthAdjust="spacingAndGlyphs">U</text></g>
<text x="1019.20" y="61.50" font-size="17.78" textLength="97.62" lengthAdjust="spacingAndGlyphs" font-weight="700">REVISIONS</text>
<text x="888.90" y="89.00" font-size="18.18" textLength="122.68" lengthAdjust="spacingAndGlyphs">DESCRIPTION</text>
<text x="807.10" y="117.70" font-size="18.18" textLength="264.61" lengthAdjust="spacingAndGlyphs">UPDATE TO INTEGRA FORMAT</text>
<text x="1279.10" y="89.90" font-size="18.18" textLength="54.22" lengthAdjust="spacingAndGlyphs">ECO #</text>
<text x="1393.10" y="89.90" font-size="18.18" textLength="46.26" lengthAdjust="spacingAndGlyphs">DATE</text>
<text x="1472.00" y="89.90" font-size="18.18" textLength="65.77" lengthAdjust="spacingAndGlyphs">APPVD.</text>
<text x="1279.80" y="120.50" font-size="18.18" textLength="49.02" lengthAdjust="spacingAndGlyphs">01887</text>
<text x="1378.10" y="120.50" font-size="18.18" textLength="74.26" lengthAdjust="spacingAndGlyphs">03/25/15</text>
<text x="1486.50" y="120.50" font-size="18.18" textLength="39.34" lengthAdjust="spacingAndGlyphs">TPW</text>
<g font-size="13.74" transform="translate(0 968.90)" stroke="#fff" stroke-width="0.10"><text x="766.75" textLength="9.20" lengthAdjust="spacingAndGlyphs">U</text><text x="775.95" textLength="10.39" lengthAdjust="spacingAndGlyphs">N</text><text x="786.34" textLength="6.49" lengthAdjust="spacingAndGlyphs">L</text><text x="792.82" textLength="7.52" lengthAdjust="spacingAndGlyphs">E</text><text x="800.35" textLength="6.99" lengthAdjust="spacingAndGlyphs">S</text><text x="807.34" textLength="6.99" lengthAdjust="spacingAndGlyphs">S</text><text x="818.22" textLength="12.20" lengthAdjust="spacingAndGlyphs">O</text><text x="830.42" textLength="5.98" lengthAdjust="spacingAndGlyphs">T</text><text x="836.40" textLength="9.59" lengthAdjust="spacingAndGlyphs">H</text><text x="845.99" textLength="7.52" lengthAdjust="spacingAndGlyphs">E</text><text x="853.51" textLength="8.52" lengthAdjust="spacingAndGlyphs">R</text><text x="862.04" textLength="13.48" lengthAdjust="spacingAndGlyphs">W</text><text x="875.51" textLength="3.17" lengthAdjust="spacingAndGlyphs">I</text><text x="878.69" textLength="6.99" lengthAdjust="spacingAndGlyphs">S</text><text x="885.68" textLength="7.52" lengthAdjust="spacingAndGlyphs">E</text><text x="897.09" textLength="6.99" lengthAdjust="spacingAndGlyphs">S</text><text x="904.08" textLength="8.31" lengthAdjust="spacingAndGlyphs">P</text><text x="912.39" textLength="7.52" lengthAdjust="spacingAndGlyphs">E</text><text x="919.92" textLength="11.41" lengthAdjust="spacingAndGlyphs">C</text><text x="931.33" textLength="3.17" lengthAdjust="spacingAndGlyphs">I</text><text x="934.51" textLength="6.81" lengthAdjust="spacingAndGlyphs">F</text><text x="941.31" textLength="3.17" lengthAdjust="spacingAndGlyphs">I</text><text x="944.49" textLength="7.52" lengthAdjust="spacingAndGlyphs">E</text><text x="952.01" textLength="10.45" lengthAdjust="spacingAndGlyphs">D</text><text x="962.46" textLength="3.89" lengthAdjust="spacingAndGlyphs">:</text></g>
<g font-size="13.74" transform="translate(0 983.80)" stroke="#fff" stroke-width="0.10"><text x="766.75" textLength="10.43" lengthAdjust="spacingAndGlyphs">D</text><text x="777.18" textLength="3.17" lengthAdjust="spacingAndGlyphs">I</text><text x="780.35" textLength="12.88" lengthAdjust="spacingAndGlyphs">M</text><text x="793.23" textLength="7.51" lengthAdjust="spacingAndGlyphs">E</text><text x="800.75" textLength="10.37" lengthAdjust="spacingAndGlyphs">N</text><text x="811.12" textLength="6.98" lengthAdjust="spacingAndGlyphs">S</text><text x="818.10" textLength="3.17" lengthAdjust="spacingAndGlyphs">I</text><text x="821.27" textLength="12.18" lengthAdjust="spacingAndGlyphs">O</text><text x="833.45" textLength="10.37" lengthAdjust="spacingAndGlyphs">N</text><text x="843.83" textLength="6.98" lengthAdjust="spacingAndGlyphs">S</text><text x="854.69" textLength="10.37" lengthAdjust="spacingAndGlyphs">A</text><text x="865.07" textLength="8.51" lengthAdjust="spacingAndGlyphs">R</text><text x="873.58" textLength="7.51" lengthAdjust="spacingAndGlyphs">E</text><text x="884.97" textLength="3.17" lengthAdjust="spacingAndGlyphs">I</text><text x="888.14" textLength="10.37" lengthAdjust="spacingAndGlyphs">N</text><text x="902.40" textLength="12.88" lengthAdjust="spacingAndGlyphs">M</text><text x="915.28" textLength="3.17" lengthAdjust="spacingAndGlyphs">I</text><text x="918.45" textLength="6.48" lengthAdjust="spacingAndGlyphs">L</text><text x="924.93" textLength="6.48" lengthAdjust="spacingAndGlyphs">L</text><text x="931.40" textLength="3.17" lengthAdjust="spacingAndGlyphs">I</text><text x="934.57" textLength="12.88" lengthAdjust="spacingAndGlyphs">M</text><text x="947.46" textLength="7.51" lengthAdjust="spacingAndGlyphs">E</text><text x="954.97" textLength="5.97" lengthAdjust="spacingAndGlyphs">T</text><text x="960.94" textLength="7.51" lengthAdjust="spacingAndGlyphs">E</text><text x="968.46" textLength="8.51" lengthAdjust="spacingAndGlyphs">R</text><text x="976.97" textLength="6.98" lengthAdjust="spacingAndGlyphs">S</text></g>
<g font-size="13.74" transform="translate(0 998.90)" stroke="#fff" stroke-width="0.10"><text x="766.75" textLength="6.00" lengthAdjust="spacingAndGlyphs">T</text><text x="772.75" textLength="12.24" lengthAdjust="spacingAndGlyphs">O</text><text x="784.99" textLength="6.51" lengthAdjust="spacingAndGlyphs">L</text><text x="791.50" textLength="7.55" lengthAdjust="spacingAndGlyphs">E</text><text x="799.04" textLength="8.55" lengthAdjust="spacingAndGlyphs">R</text><text x="807.59" textLength="10.42" lengthAdjust="spacingAndGlyphs">A</text><text x="818.01" textLength="10.42" lengthAdjust="spacingAndGlyphs">N</text><text x="828.43" textLength="11.45" lengthAdjust="spacingAndGlyphs">C</text><text x="839.88" textLength="7.55" lengthAdjust="spacingAndGlyphs">E</text><text x="847.43" textLength="7.01" lengthAdjust="spacingAndGlyphs">S</text><text x="854.44" textLength="3.90" lengthAdjust="spacingAndGlyphs">:</text></g>
<g font-size="13.74" transform="translate(0 1013.70)" stroke="#fff" stroke-width="0.10"><text x="766.75" textLength="10.38" lengthAdjust="spacingAndGlyphs">A</text><text x="777.13" textLength="10.38" lengthAdjust="spacingAndGlyphs">N</text><text x="787.51" textLength="12.23" lengthAdjust="spacingAndGlyphs">G</text><text x="799.74" textLength="9.19" lengthAdjust="spacingAndGlyphs">U</text><text x="808.93" textLength="6.48" lengthAdjust="spacingAndGlyphs">L</text><text x="815.41" textLength="10.38" lengthAdjust="spacingAndGlyphs">A</text><text x="825.78" textLength="8.51" lengthAdjust="spacingAndGlyphs">R</text><text x="834.30" textLength="3.88" lengthAdjust="spacingAndGlyphs">:</text><text x="842.07" textLength="8.50" lengthAdjust="spacingAndGlyphs">±</text><text x="850.57" textLength="7.77" lengthAdjust="spacingAndGlyphs">1</text><text x="858.34" textLength="5.61" lengthAdjust="spacingAndGlyphs">°</text></g>
<g font-size="13.74" transform="translate(0 1028.00)" stroke="#fff" stroke-width="0.10"><text x="766.75" textLength="12.13" lengthAdjust="spacingAndGlyphs">O</text><text x="778.88" textLength="10.33" lengthAdjust="spacingAndGlyphs">N</text><text x="789.21" textLength="7.48" lengthAdjust="spacingAndGlyphs">E</text><text x="800.56" textLength="8.26" lengthAdjust="spacingAndGlyphs">P</text><text x="808.82" textLength="6.45" lengthAdjust="spacingAndGlyphs">L</text><text x="815.27" textLength="10.33" lengthAdjust="spacingAndGlyphs">A</text><text x="825.60" textLength="11.35" lengthAdjust="spacingAndGlyphs">C</text><text x="836.94" textLength="7.48" lengthAdjust="spacingAndGlyphs">E</text><text x="848.29" textLength="10.38" lengthAdjust="spacingAndGlyphs">D</text><text x="858.67" textLength="7.48" lengthAdjust="spacingAndGlyphs">E</text><text x="866.16" textLength="11.35" lengthAdjust="spacingAndGlyphs">C</text><text x="877.50" textLength="3.15" lengthAdjust="spacingAndGlyphs">I</text><text x="880.66" textLength="12.83" lengthAdjust="spacingAndGlyphs">M</text><text x="893.48" textLength="10.33" lengthAdjust="spacingAndGlyphs">A</text><text x="903.81" textLength="6.45" lengthAdjust="spacingAndGlyphs">L</text><text x="914.13" textLength="8.46" lengthAdjust="spacingAndGlyphs">±</text><text x="926.45" textLength="3.87" lengthAdjust="spacingAndGlyphs">.</text><text x="930.32" textLength="7.73" lengthAdjust="spacingAndGlyphs">5</text></g>
<g font-size="13.74" transform="translate(0 1042.80)" stroke="#fff" stroke-width="0.10"><text x="766.75" textLength="5.98" lengthAdjust="spacingAndGlyphs">T</text><text x="772.73" textLength="13.47" lengthAdjust="spacingAndGlyphs">W</text><text x="786.20" textLength="12.19" lengthAdjust="spacingAndGlyphs">O</text><text x="802.27" textLength="8.31" lengthAdjust="spacingAndGlyphs">P</text><text x="810.58" textLength="6.48" lengthAdjust="spacingAndGlyphs">L</text><text x="817.06" textLength="10.38" lengthAdjust="spacingAndGlyphs">A</text><text x="827.44" textLength="11.41" lengthAdjust="spacingAndGlyphs">C</text><text x="838.85" textLength="7.52" lengthAdjust="spacingAndGlyphs">E</text><text x="850.25" textLength="10.44" lengthAdjust="spacingAndGlyphs">D</text><text x="860.69" textLength="7.52" lengthAdjust="spacingAndGlyphs">E</text><text x="868.21" textLength="11.41" lengthAdjust="spacingAndGlyphs">C</text><text x="879.62" textLength="3.17" lengthAdjust="spacingAndGlyphs">I</text><text x="882.79" textLength="12.89" lengthAdjust="spacingAndGlyphs">M</text><text x="895.68" textLength="10.38" lengthAdjust="spacingAndGlyphs">A</text><text x="906.06" textLength="6.48" lengthAdjust="spacingAndGlyphs">L</text><text x="916.43" textLength="8.50" lengthAdjust="spacingAndGlyphs">±</text><text x="928.82" textLength="3.89" lengthAdjust="spacingAndGlyphs">.</text><text x="932.71" textLength="7.77" lengthAdjust="spacingAndGlyphs">2</text><text x="940.48" textLength="7.77" lengthAdjust="spacingAndGlyphs">5</text></g>
<g font-size="11.92" transform="translate(0 1068.10)" stroke="#fff" stroke-width="0.08"><text x="763.76" textLength="11.05" lengthAdjust="spacingAndGlyphs">M</text><text x="774.81" textLength="8.90" lengthAdjust="spacingAndGlyphs">A</text><text x="783.71" textLength="5.12" lengthAdjust="spacingAndGlyphs">T</text><text x="788.83" textLength="6.45" lengthAdjust="spacingAndGlyphs">E</text><text x="795.27" textLength="7.30" lengthAdjust="spacingAndGlyphs">R</text><text x="802.57" textLength="2.72" lengthAdjust="spacingAndGlyphs">I</text><text x="805.29" textLength="8.90" lengthAdjust="spacingAndGlyphs">A</text><text x="814.19" textLength="5.56" lengthAdjust="spacingAndGlyphs">L</text></g>
<g font-size="12.12" transform="translate(0 1084.10)" stroke="#fff" stroke-width="0.08"><text x="792.46" textLength="5.98" lengthAdjust="spacingAndGlyphs">S</text><text x="798.43" textLength="6.43" lengthAdjust="spacingAndGlyphs">E</text><text x="804.87" textLength="6.43" lengthAdjust="spacingAndGlyphs">E</text><text x="814.62" textLength="8.93" lengthAdjust="spacingAndGlyphs">D</text><text x="823.55" textLength="7.28" lengthAdjust="spacingAndGlyphs">R</text><text x="830.84" textLength="8.88" lengthAdjust="spacingAndGlyphs">A</text><text x="839.72" textLength="11.52" lengthAdjust="spacingAndGlyphs">W</text><text x="851.24" textLength="2.71" lengthAdjust="spacingAndGlyphs">I</text><text x="853.95" textLength="8.88" lengthAdjust="spacingAndGlyphs">N</text><text x="862.83" textLength="10.47" lengthAdjust="spacingAndGlyphs">G</text><text x="877.19" textLength="4.11" lengthAdjust="spacingAndGlyphs">/</text><text x="885.19" textLength="8.20" lengthAdjust="spacingAndGlyphs">H</text><text x="893.39" textLength="8.88" lengthAdjust="spacingAndGlyphs">A</text><text x="902.27" textLength="7.28" lengthAdjust="spacingAndGlyphs">R</text><text x="909.56" textLength="8.93" lengthAdjust="spacingAndGlyphs">D</text><text x="918.49" textLength="8.88" lengthAdjust="spacingAndGlyphs">N</text><text x="927.37" textLength="6.43" lengthAdjust="spacingAndGlyphs">E</text><text x="933.80" textLength="5.98" lengthAdjust="spacingAndGlyphs">S</text><text x="939.78" textLength="5.98" lengthAdjust="spacingAndGlyphs">S</text><text x="945.75" textLength="3.32" lengthAdjust="spacingAndGlyphs">:</text><text x="952.40" textLength="6.65" lengthAdjust="spacingAndGlyphs">4</text><text x="959.05" textLength="6.65" lengthAdjust="spacingAndGlyphs">4</text><text x="965.70" textLength="3.98" lengthAdjust="spacingAndGlyphs">-</text><text x="969.68" textLength="6.65" lengthAdjust="spacingAndGlyphs">4</text><text x="976.33" textLength="6.65" lengthAdjust="spacingAndGlyphs">8</text><text x="986.31" textLength="8.20" lengthAdjust="spacingAndGlyphs">H</text><text x="994.50" textLength="7.28" lengthAdjust="spacingAndGlyphs">R</text><text x="1001.79" textLength="9.76" lengthAdjust="spacingAndGlyphs">C</text></g>
<g font-size="11.92" transform="translate(0 1108.30)" stroke="#fff" stroke-width="0.08"><text x="763.76" textLength="5.82" lengthAdjust="spacingAndGlyphs">F</text><text x="769.58" textLength="2.71" lengthAdjust="spacingAndGlyphs">I</text><text x="772.29" textLength="8.88" lengthAdjust="spacingAndGlyphs">N</text><text x="781.16" textLength="2.71" lengthAdjust="spacingAndGlyphs">I</text><text x="783.88" textLength="5.97" lengthAdjust="spacingAndGlyphs">S</text><text x="789.85" textLength="8.19" lengthAdjust="spacingAndGlyphs">H</text></g>
<g font-size="12.12" transform="translate(0 1122.30)" stroke="#fff" stroke-width="0.08"><text x="850.46" textLength="5.98" lengthAdjust="spacingAndGlyphs">S</text><text x="856.43" textLength="8.88" lengthAdjust="spacingAndGlyphs">A</text><text x="865.32" textLength="5.11" lengthAdjust="spacingAndGlyphs">T</text><text x="870.43" textLength="2.71" lengthAdjust="spacingAndGlyphs">I</text><text x="873.14" textLength="8.88" lengthAdjust="spacingAndGlyphs">N</text><text x="885.91" textLength="4.11" lengthAdjust="spacingAndGlyphs">/</text><text x="893.91" textLength="2.71" lengthAdjust="spacingAndGlyphs">I</text><text x="896.63" textLength="8.88" lengthAdjust="spacingAndGlyphs">N</text><text x="905.51" textLength="5.98" lengthAdjust="spacingAndGlyphs">S</text><text x="911.48" textLength="7.86" lengthAdjust="spacingAndGlyphs">U</text><text x="919.34" textLength="5.54" lengthAdjust="spacingAndGlyphs">L</text><text x="924.89" textLength="8.88" lengthAdjust="spacingAndGlyphs">A</text><text x="933.77" textLength="5.11" lengthAdjust="spacingAndGlyphs">T</text><text x="938.88" textLength="6.43" lengthAdjust="spacingAndGlyphs">E</text><text x="945.32" textLength="8.93" lengthAdjust="spacingAndGlyphs">D</text></g>
<g font-size="12.12" transform="translate(0 1166.90)" stroke="#fff" stroke-width="0.08"><text x="827.96" textLength="8.96" lengthAdjust="spacingAndGlyphs">D</text><text x="836.92" textLength="10.47" lengthAdjust="spacingAndGlyphs">O</text><text x="850.73" textLength="8.91" lengthAdjust="spacingAndGlyphs">N</text><text x="859.64" textLength="10.47" lengthAdjust="spacingAndGlyphs">O</text><text x="870.11" textLength="5.13" lengthAdjust="spacingAndGlyphs">T</text><text x="878.58" textLength="6.00" lengthAdjust="spacingAndGlyphs">S</text><text x="884.58" textLength="9.79" lengthAdjust="spacingAndGlyphs">C</text><text x="894.37" textLength="8.91" lengthAdjust="spacingAndGlyphs">A</text><text x="903.28" textLength="5.57" lengthAdjust="spacingAndGlyphs">L</text><text x="908.85" textLength="6.46" lengthAdjust="spacingAndGlyphs">E</text><text x="918.64" textLength="8.96" lengthAdjust="spacingAndGlyphs">D</text><text x="927.61" textLength="7.31" lengthAdjust="spacingAndGlyphs">R</text><text x="934.92" textLength="8.91" lengthAdjust="spacingAndGlyphs">A</text><text x="943.83" textLength="11.56" lengthAdjust="spacingAndGlyphs">W</text><text x="955.40" textLength="2.72" lengthAdjust="spacingAndGlyphs">I</text><text x="958.12" textLength="8.91" lengthAdjust="spacingAndGlyphs">N</text><text x="967.04" textLength="10.50" lengthAdjust="spacingAndGlyphs">G</text></g>
<g font-size="13.43" transform="translate(0 970.80)" stroke="#fff" stroke-width="0.09"><text x="1153.65" textLength="10.66" lengthAdjust="spacingAndGlyphs">N</text><text x="1164.32" textLength="10.66" lengthAdjust="spacingAndGlyphs">A</text><text x="1174.98" textLength="13.24" lengthAdjust="spacingAndGlyphs">M</text><text x="1188.22" textLength="7.72" lengthAdjust="spacingAndGlyphs">E</text></g>
<g font-size="13.43" transform="translate(0 964.40)" stroke="#fff" stroke-width="0.09"><text x="1227.95" textLength="10.10" lengthAdjust="spacingAndGlyphs">D</text><text x="1238.05" textLength="10.04" lengthAdjust="spacingAndGlyphs">A</text><text x="1248.09" textLength="5.78" lengthAdjust="spacingAndGlyphs">T</text><text x="1253.87" textLength="7.27" lengthAdjust="spacingAndGlyphs">E</text></g>
<g font-size="13.43" transform="translate(0 977.80)" stroke="#fff" stroke-width="0.09"><text x="1206.75" textLength="12.92" lengthAdjust="spacingAndGlyphs">M</text><text x="1219.67" textLength="12.92" lengthAdjust="spacingAndGlyphs">M</text><text x="1233.39" textLength="4.55" lengthAdjust="spacingAndGlyphs">/</text><text x="1238.74" textLength="10.46" lengthAdjust="spacingAndGlyphs">D</text><text x="1249.20" textLength="10.46" lengthAdjust="spacingAndGlyphs">D</text><text x="1260.45" textLength="4.55" lengthAdjust="spacingAndGlyphs">/</text><text x="1265.80" textLength="8.32" lengthAdjust="spacingAndGlyphs">Y</text><text x="1274.12" textLength="8.32" lengthAdjust="spacingAndGlyphs">Y</text></g>
<g font-size="13.43" transform="translate(0 998.40)" stroke="#fff" stroke-width="0.09"><text x="1053.75" textLength="10.36" lengthAdjust="spacingAndGlyphs">D</text><text x="1064.11" textLength="8.45" lengthAdjust="spacingAndGlyphs">R</text><text x="1072.57" textLength="10.31" lengthAdjust="spacingAndGlyphs">A</text><text x="1082.87" textLength="13.37" lengthAdjust="spacingAndGlyphs">W</text><text x="1096.24" textLength="10.31" lengthAdjust="spacingAndGlyphs">N</text><text x="1110.41" textLength="7.99" lengthAdjust="spacingAndGlyphs">B</text><text x="1118.40" textLength="8.24" lengthAdjust="spacingAndGlyphs">Y</text></g>
<g font-size="15.55" transform="translate(0 997.40)" stroke="#fff" stroke-width="0.11"><text x="1160.05" textLength="7.57" lengthAdjust="spacingAndGlyphs">J</text><text x="1167.62" textLength="7.26" lengthAdjust="spacingAndGlyphs">L</text><text x="1174.87" textLength="15.08" lengthAdjust="spacingAndGlyphs">W</text></g>
<g font-size="15.65" transform="translate(0 998.40)" stroke="#fff" stroke-width="0.11"><text x="1209.55" textLength="9.05" lengthAdjust="spacingAndGlyphs">0</text><text x="1218.60" textLength="9.05" lengthAdjust="spacingAndGlyphs">3</text><text x="1228.57" textLength="5.30" lengthAdjust="spacingAndGlyphs">/</text><text x="1234.80" textLength="9.05" lengthAdjust="spacingAndGlyphs">2</text><text x="1243.85" textLength="9.05" lengthAdjust="spacingAndGlyphs">5</text><text x="1253.82" textLength="5.30" lengthAdjust="spacingAndGlyphs">/</text><text x="1260.05" textLength="9.05" lengthAdjust="spacingAndGlyphs">1</text><text x="1269.10" textLength="9.05" lengthAdjust="spacingAndGlyphs">5</text></g>
<g font-size="12.83" transform="translate(0 1047.30)" font-weight="700"><text x="1052.10" textLength="7.85" lengthAdjust="spacingAndGlyphs">P</text><text x="1059.95" textLength="8.13" lengthAdjust="spacingAndGlyphs">R</text><text x="1068.07" textLength="11.77" lengthAdjust="spacingAndGlyphs">O</text><text x="1079.84" textLength="7.85" lengthAdjust="spacingAndGlyphs">P</text><text x="1087.69" textLength="8.13" lengthAdjust="spacingAndGlyphs">R</text><text x="1095.81" textLength="3.92" lengthAdjust="spacingAndGlyphs">I</text><text x="1099.74" textLength="7.29" lengthAdjust="spacingAndGlyphs">E</text><text x="1107.02" textLength="5.88" lengthAdjust="spacingAndGlyphs">T</text><text x="1112.91" textLength="10.37" lengthAdjust="spacingAndGlyphs">A</text><text x="1123.28" textLength="8.13" lengthAdjust="spacingAndGlyphs">R</text><text x="1131.40" textLength="8.69" lengthAdjust="spacingAndGlyphs">Y</text><text x="1144.01" textLength="10.37" lengthAdjust="spacingAndGlyphs">A</text><text x="1154.38" textLength="10.37" lengthAdjust="spacingAndGlyphs">N</text><text x="1164.75" textLength="9.81" lengthAdjust="spacingAndGlyphs">D</text><text x="1178.48" textLength="10.93" lengthAdjust="spacingAndGlyphs">C</text><text x="1189.41" textLength="11.77" lengthAdjust="spacingAndGlyphs">O</text><text x="1201.18" textLength="10.37" lengthAdjust="spacingAndGlyphs">N</text><text x="1211.55" textLength="6.73" lengthAdjust="spacingAndGlyphs">F</text><text x="1218.27" textLength="3.92" lengthAdjust="spacingAndGlyphs">I</text><text x="1222.20" textLength="9.81" lengthAdjust="spacingAndGlyphs">D</text><text x="1232.00" textLength="7.29" lengthAdjust="spacingAndGlyphs">E</text><text x="1239.29" textLength="10.37" lengthAdjust="spacingAndGlyphs">N</text><text x="1249.66" textLength="5.88" lengthAdjust="spacingAndGlyphs">T</text><text x="1255.54" textLength="3.92" lengthAdjust="spacingAndGlyphs">I</text><text x="1259.47" textLength="10.37" lengthAdjust="spacingAndGlyphs">A</text><text x="1269.83" textLength="6.16" lengthAdjust="spacingAndGlyphs">L</text></g>
<g font-size="13.74" transform="translate(0 1062.80)" stroke="#fff" stroke-width="0.10"><text x="1052.05" textLength="5.94" lengthAdjust="spacingAndGlyphs">T</text><text x="1058.00" textLength="9.53" lengthAdjust="spacingAndGlyphs">H</text><text x="1067.53" textLength="7.48" lengthAdjust="spacingAndGlyphs">E</text><text x="1078.87" textLength="3.15" lengthAdjust="spacingAndGlyphs">I</text><text x="1082.03" textLength="10.33" lengthAdjust="spacingAndGlyphs">N</text><text x="1092.35" textLength="6.77" lengthAdjust="spacingAndGlyphs">F</text><text x="1099.12" textLength="12.13" lengthAdjust="spacingAndGlyphs">O</text><text x="1111.25" textLength="8.47" lengthAdjust="spacingAndGlyphs">R</text><text x="1119.72" textLength="12.82" lengthAdjust="spacingAndGlyphs">M</text><text x="1132.55" textLength="10.33" lengthAdjust="spacingAndGlyphs">A</text><text x="1142.87" textLength="5.94" lengthAdjust="spacingAndGlyphs">T</text><text x="1148.82" textLength="3.15" lengthAdjust="spacingAndGlyphs">I</text><text x="1151.97" textLength="12.13" lengthAdjust="spacingAndGlyphs">O</text><text x="1164.10" textLength="10.33" lengthAdjust="spacingAndGlyphs">N</text><text x="1178.29" textLength="11.35" lengthAdjust="spacingAndGlyphs">C</text><text x="1189.64" textLength="12.13" lengthAdjust="spacingAndGlyphs">O</text><text x="1201.76" textLength="10.33" lengthAdjust="spacingAndGlyphs">N</text><text x="1212.09" textLength="5.94" lengthAdjust="spacingAndGlyphs">T</text><text x="1218.03" textLength="10.33" lengthAdjust="spacingAndGlyphs">A</text><text x="1228.36" textLength="3.15" lengthAdjust="spacingAndGlyphs">I</text><text x="1231.51" textLength="10.33" lengthAdjust="spacingAndGlyphs">N</text><text x="1241.84" textLength="7.48" lengthAdjust="spacingAndGlyphs">E</text><text x="1249.32" textLength="10.38" lengthAdjust="spacingAndGlyphs">D</text><text x="1263.57" textLength="3.15" lengthAdjust="spacingAndGlyphs">I</text><text x="1266.72" textLength="10.33" lengthAdjust="spacingAndGlyphs">N</text></g>
<g font-size="13.74" transform="translate(0 1077.70)" stroke="#fff" stroke-width="0.10"><text x="1052.05" textLength="5.97" lengthAdjust="spacingAndGlyphs">T</text><text x="1058.03" textLength="9.58" lengthAdjust="spacingAndGlyphs">H</text><text x="1067.60" textLength="3.17" lengthAdjust="spacingAndGlyphs">I</text><text x="1070.77" textLength="6.98" lengthAdjust="spacingAndGlyphs">S</text><text x="1081.64" textLength="10.43" lengthAdjust="spacingAndGlyphs">D</text><text x="1092.08" textLength="8.51" lengthAdjust="spacingAndGlyphs">R</text><text x="1100.59" textLength="10.38" lengthAdjust="spacingAndGlyphs">A</text><text x="1110.97" textLength="13.46" lengthAdjust="spacingAndGlyphs">W</text><text x="1124.43" textLength="3.17" lengthAdjust="spacingAndGlyphs">I</text><text x="1127.60" textLength="10.38" lengthAdjust="spacingAndGlyphs">N</text><text x="1137.98" textLength="12.23" lengthAdjust="spacingAndGlyphs">G</text><text x="1154.09" textLength="3.17" lengthAdjust="spacingAndGlyphs">I</text><text x="1157.26" textLength="6.98" lengthAdjust="spacingAndGlyphs">S</text><text x="1168.13" textLength="5.97" lengthAdjust="spacingAndGlyphs">T</text><text x="1174.10" textLength="9.58" lengthAdjust="spacingAndGlyphs">H</text><text x="1183.68" textLength="7.52" lengthAdjust="spacingAndGlyphs">E</text><text x="1195.08" textLength="6.98" lengthAdjust="spacingAndGlyphs">S</text><text x="1202.07" textLength="12.19" lengthAdjust="spacingAndGlyphs">O</text><text x="1214.25" textLength="6.48" lengthAdjust="spacingAndGlyphs">L</text><text x="1220.73" textLength="7.52" lengthAdjust="spacingAndGlyphs">E</text></g>
<g font-size="13.74" transform="translate(0 1091.90)" stroke="#fff" stroke-width="0.10"><text x="1052.05" textLength="8.33" lengthAdjust="spacingAndGlyphs">P</text><text x="1060.38" textLength="8.54" lengthAdjust="spacingAndGlyphs">R</text><text x="1068.92" textLength="12.22" lengthAdjust="spacingAndGlyphs">O</text><text x="1081.14" textLength="8.33" lengthAdjust="spacingAndGlyphs">P</text><text x="1089.47" textLength="7.54" lengthAdjust="spacingAndGlyphs">E</text><text x="1097.00" textLength="8.54" lengthAdjust="spacingAndGlyphs">R</text><text x="1105.54" textLength="5.99" lengthAdjust="spacingAndGlyphs">T</text><text x="1111.53" textLength="8.33" lengthAdjust="spacingAndGlyphs">Y</text><text x="1123.76" textLength="12.22" lengthAdjust="spacingAndGlyphs">O</text><text x="1135.98" textLength="6.82" lengthAdjust="spacingAndGlyphs">F</text><text x="1146.70" textLength="3.18" lengthAdjust="spacingAndGlyphs">I</text><text x="1149.87" textLength="10.41" lengthAdjust="spacingAndGlyphs">N</text><text x="1160.28" textLength="5.99" lengthAdjust="spacingAndGlyphs">T</text><text x="1166.27" textLength="7.54" lengthAdjust="spacingAndGlyphs">E</text><text x="1173.81" textLength="12.26" lengthAdjust="spacingAndGlyphs">G</text><text x="1186.08" textLength="8.54" lengthAdjust="spacingAndGlyphs">R</text><text x="1194.62" textLength="10.41" lengthAdjust="spacingAndGlyphs">A</text><text x="1208.92" textLength="8.33" lengthAdjust="spacingAndGlyphs">Y</text><text x="1217.25" textLength="12.22" lengthAdjust="spacingAndGlyphs">O</text><text x="1229.47" textLength="8.54" lengthAdjust="spacingAndGlyphs">R</text><text x="1238.01" textLength="8.31" lengthAdjust="spacingAndGlyphs">K</text><text x="1250.21" textLength="8.33" lengthAdjust="spacingAndGlyphs">P</text><text x="1258.54" textLength="10.41" lengthAdjust="spacingAndGlyphs">A</text><text x="1268.95" textLength="3.90" lengthAdjust="spacingAndGlyphs">,</text></g>
<g font-size="13.74" transform="translate(0 1106.80)" stroke="#fff" stroke-width="0.10"><text x="1052.05" textLength="3.16" lengthAdjust="spacingAndGlyphs">I</text><text x="1055.22" textLength="10.36" lengthAdjust="spacingAndGlyphs">N</text><text x="1065.58" textLength="11.38" lengthAdjust="spacingAndGlyphs">C</text><text x="1076.96" textLength="3.88" lengthAdjust="spacingAndGlyphs">.</text><text x="1088.59" textLength="10.36" lengthAdjust="spacingAndGlyphs">A</text><text x="1098.95" textLength="10.36" lengthAdjust="spacingAndGlyphs">N</text><text x="1109.31" textLength="8.29" lengthAdjust="spacingAndGlyphs">Y</text><text x="1121.48" textLength="8.50" lengthAdjust="spacingAndGlyphs">R</text><text x="1129.98" textLength="7.50" lengthAdjust="spacingAndGlyphs">E</text><text x="1137.48" textLength="8.29" lengthAdjust="spacingAndGlyphs">P</text><text x="1145.77" textLength="8.50" lengthAdjust="spacingAndGlyphs">R</text><text x="1154.27" textLength="12.17" lengthAdjust="spacingAndGlyphs">O</text><text x="1166.43" textLength="10.42" lengthAdjust="spacingAndGlyphs">D</text><text x="1176.85" textLength="9.17" lengthAdjust="spacingAndGlyphs">U</text><text x="1186.02" textLength="11.38" lengthAdjust="spacingAndGlyphs">C</text><text x="1197.40" textLength="5.96" lengthAdjust="spacingAndGlyphs">T</text><text x="1203.37" textLength="3.16" lengthAdjust="spacingAndGlyphs">I</text><text x="1206.53" textLength="12.17" lengthAdjust="spacingAndGlyphs">O</text><text x="1218.70" textLength="10.36" lengthAdjust="spacingAndGlyphs">N</text><text x="1232.93" textLength="3.16" lengthAdjust="spacingAndGlyphs">I</text><text x="1236.10" textLength="10.36" lengthAdjust="spacingAndGlyphs">N</text><text x="1250.34" textLength="8.29" lengthAdjust="spacingAndGlyphs">P</text><text x="1258.62" textLength="10.36" lengthAdjust="spacingAndGlyphs">A</text><text x="1268.98" textLength="8.50" lengthAdjust="spacingAndGlyphs">R</text><text x="1277.48" textLength="5.96" lengthAdjust="spacingAndGlyphs">T</text></g>
<g font-size="13.74" transform="translate(0 1121.60)" stroke="#fff" stroke-width="0.10"><text x="1052.05" textLength="12.22" lengthAdjust="spacingAndGlyphs">O</text><text x="1064.27" textLength="8.53" lengthAdjust="spacingAndGlyphs">R</text><text x="1076.70" textLength="10.40" lengthAdjust="spacingAndGlyphs">A</text><text x="1087.10" textLength="7.00" lengthAdjust="spacingAndGlyphs">S</text><text x="1098.00" textLength="10.40" lengthAdjust="spacingAndGlyphs">A</text><text x="1112.30" textLength="13.50" lengthAdjust="spacingAndGlyphs">W</text><text x="1125.80" textLength="9.60" lengthAdjust="spacingAndGlyphs">H</text><text x="1135.40" textLength="12.22" lengthAdjust="spacingAndGlyphs">O</text><text x="1147.62" textLength="6.50" lengthAdjust="spacingAndGlyphs">L</text><text x="1154.11" textLength="7.54" lengthAdjust="spacingAndGlyphs">E</text><text x="1165.54" textLength="13.50" lengthAdjust="spacingAndGlyphs">W</text><text x="1179.04" textLength="3.18" lengthAdjust="spacingAndGlyphs">I</text><text x="1182.22" textLength="5.99" lengthAdjust="spacingAndGlyphs">T</text><text x="1188.21" textLength="9.60" lengthAdjust="spacingAndGlyphs">H</text><text x="1197.81" textLength="12.22" lengthAdjust="spacingAndGlyphs">O</text><text x="1210.03" textLength="9.21" lengthAdjust="spacingAndGlyphs">U</text><text x="1219.24" textLength="5.99" lengthAdjust="spacingAndGlyphs">T</text><text x="1229.12" textLength="5.99" lengthAdjust="spacingAndGlyphs">T</text><text x="1235.11" textLength="9.60" lengthAdjust="spacingAndGlyphs">H</text><text x="1244.71" textLength="7.54" lengthAdjust="spacingAndGlyphs">E</text></g>
<g font-size="13.74" transform="translate(0 1136.50)" stroke="#fff" stroke-width="0.10"><text x="1052.05" textLength="13.47" lengthAdjust="spacingAndGlyphs">W</text><text x="1065.52" textLength="8.52" lengthAdjust="spacingAndGlyphs">R</text><text x="1074.04" textLength="3.17" lengthAdjust="spacingAndGlyphs">I</text><text x="1077.21" textLength="5.98" lengthAdjust="spacingAndGlyphs">T</text><text x="1083.19" textLength="5.98" lengthAdjust="spacingAndGlyphs">T</text><text x="1089.16" textLength="7.52" lengthAdjust="spacingAndGlyphs">E</text><text x="1096.69" textLength="10.38" lengthAdjust="spacingAndGlyphs">N</text><text x="1110.96" textLength="8.31" lengthAdjust="spacingAndGlyphs">P</text><text x="1119.26" textLength="7.52" lengthAdjust="spacingAndGlyphs">E</text><text x="1126.78" textLength="8.52" lengthAdjust="spacingAndGlyphs">R</text><text x="1135.30" textLength="12.89" lengthAdjust="spacingAndGlyphs">M</text><text x="1148.19" textLength="3.17" lengthAdjust="spacingAndGlyphs">I</text><text x="1151.37" textLength="6.99" lengthAdjust="spacingAndGlyphs">S</text><text x="1158.35" textLength="6.99" lengthAdjust="spacingAndGlyphs">S</text><text x="1165.34" textLength="3.17" lengthAdjust="spacingAndGlyphs">I</text><text x="1168.51" textLength="12.19" lengthAdjust="spacingAndGlyphs">O</text><text x="1180.71" textLength="10.38" lengthAdjust="spacingAndGlyphs">N</text><text x="1194.98" textLength="12.19" lengthAdjust="spacingAndGlyphs">O</text><text x="1207.17" textLength="6.81" lengthAdjust="spacingAndGlyphs">F</text><text x="1217.86" textLength="3.17" lengthAdjust="spacingAndGlyphs">I</text><text x="1221.03" textLength="10.38" lengthAdjust="spacingAndGlyphs">N</text><text x="1231.41" textLength="5.98" lengthAdjust="spacingAndGlyphs">T</text><text x="1237.39" textLength="7.52" lengthAdjust="spacingAndGlyphs">E</text><text x="1244.91" textLength="12.24" lengthAdjust="spacingAndGlyphs">G</text><text x="1257.15" textLength="8.52" lengthAdjust="spacingAndGlyphs">R</text><text x="1265.66" textLength="10.38" lengthAdjust="spacingAndGlyphs">A</text></g>
<g font-size="13.74" transform="translate(0 1151.40)" stroke="#fff" stroke-width="0.10"><text x="1052.05" textLength="8.31" lengthAdjust="spacingAndGlyphs">Y</text><text x="1060.36" textLength="12.20" lengthAdjust="spacingAndGlyphs">O</text><text x="1072.56" textLength="8.52" lengthAdjust="spacingAndGlyphs">R</text><text x="1081.07" textLength="8.29" lengthAdjust="spacingAndGlyphs">K</text><text x="1093.26" textLength="8.31" lengthAdjust="spacingAndGlyphs">P</text><text x="1101.56" textLength="10.38" lengthAdjust="spacingAndGlyphs">A</text><text x="1111.95" textLength="3.89" lengthAdjust="spacingAndGlyphs">,</text><text x="1119.72" textLength="3.17" lengthAdjust="spacingAndGlyphs">I</text><text x="1122.89" textLength="10.38" lengthAdjust="spacingAndGlyphs">N</text><text x="1133.28" textLength="11.41" lengthAdjust="spacingAndGlyphs">C</text><text x="1144.69" textLength="3.89" lengthAdjust="spacingAndGlyphs">.</text><text x="1152.46" textLength="3.17" lengthAdjust="spacingAndGlyphs">I</text><text x="1155.64" textLength="6.99" lengthAdjust="spacingAndGlyphs">S</text><text x="1166.51" textLength="8.31" lengthAdjust="spacingAndGlyphs">P</text><text x="1174.82" textLength="8.52" lengthAdjust="spacingAndGlyphs">R</text><text x="1183.34" textLength="12.20" lengthAdjust="spacingAndGlyphs">O</text><text x="1195.53" textLength="9.59" lengthAdjust="spacingAndGlyphs">H</text><text x="1205.12" textLength="3.17" lengthAdjust="spacingAndGlyphs">I</text><text x="1208.29" textLength="8.06" lengthAdjust="spacingAndGlyphs">B</text><text x="1216.35" textLength="3.17" lengthAdjust="spacingAndGlyphs">I</text><text x="1219.52" textLength="5.98" lengthAdjust="spacingAndGlyphs">T</text><text x="1225.50" textLength="7.52" lengthAdjust="spacingAndGlyphs">E</text><text x="1233.02" textLength="10.44" lengthAdjust="spacingAndGlyphs">D</text><text x="1243.46" textLength="3.89" lengthAdjust="spacingAndGlyphs">.</text></g>
<text x="1302.35" y="989.80" font-size="21.82" textLength="15.15" lengthAdjust="spacingAndGlyphs" fill="#000" stroke="#000" stroke-width="0.5">N</text>
<text x="1319.55" y="989.80" font-size="21.82" textLength="13.82" lengthAdjust="spacingAndGlyphs" fill="#000" stroke="#000" stroke-width="0.5">T</text>
<text x="1335.95" y="989.80" font-size="21.82" textLength="8.63" lengthAdjust="spacingAndGlyphs" fill="#000" stroke="#000" stroke-width="0.5">E</text>
<text x="1346.95" y="989.80" font-size="21.82" textLength="15.06" lengthAdjust="spacingAndGlyphs" fill="#000" stroke="#000" stroke-width="0.5">G</text>
<text x="1365.55" y="989.80" font-size="21.82" textLength="11.53" lengthAdjust="spacingAndGlyphs" fill="#000" stroke="#000" stroke-width="0.5">R</text>
<text x="1379.25" y="989.80" font-size="21.82" textLength="14.63" lengthAdjust="spacingAndGlyphs" fill="#000" stroke="#000" stroke-width="0.5">A</text>
<g fill="#000">
<rect x="1295.8" y="974.2" width="2.4" height="15.6"/>
<path d="M1396 963.3 L1414 961 L1415.8 975.8 L1398.1 978.3Z"/>
<rect x="1404.3" y="979" width="12.6" height="10.6"/>
<rect x="1400.1" y="991.1" width="7.7" height="6.6"/>
<rect x="1404.3" y="999.1" width="5.7" height="4.4"/>
</g>
<g fill="#333">
<rect x="1347" y="996" width="0.8" height="2.4"/>
<rect x="1348.6" y="996" width="1.6" height="2.4"/>
<rect x="1351" y="996" width="1.8" height="2.4"/>
<rect x="1364.5" y="996" width="1.2" height="2.4"/>
<rect x="1366.6" y="996" width="1.4" height="2.4"/>
<rect x="1369" y="996" width="1.2" height="2.4"/>
<rect x="1371.5" y="996" width="1.6" height="2.4"/>
<rect x="1374" y="996" width="1.4" height="2.4"/>
<rect x="1376.6" y="996" width="1.8" height="2.4"/>
<rect x="1379.6" y="996" width="1.4" height="2.4"/>
<rect x="1382.2" y="996" width="1.2" height="2.4"/>
<rect x="1385" y="996" width="1.4" height="2.4"/>
<rect x="1390.5" y="996" width="1.6" height="2.4"/>
</g>
<g font-size="11.92" transform="translate(0 970.80)" stroke="#fff" stroke-width="0.08"><text x="1424.86" textLength="6.56" lengthAdjust="spacingAndGlyphs">5</text><text x="1431.42" textLength="6.56" lengthAdjust="spacingAndGlyphs">8</text><text x="1437.97" textLength="6.56" lengthAdjust="spacingAndGlyphs">9</text><text x="1447.81" textLength="8.81" lengthAdjust="spacingAndGlyphs">D</text><text x="1456.61" textLength="8.76" lengthAdjust="spacingAndGlyphs">A</text><text x="1465.37" textLength="8.31" lengthAdjust="spacingAndGlyphs">V</text><text x="1473.68" textLength="2.67" lengthAdjust="spacingAndGlyphs">I</text><text x="1476.35" textLength="6.34" lengthAdjust="spacingAndGlyphs">E</text><text x="1482.70" textLength="5.89" lengthAdjust="spacingAndGlyphs">S</text><text x="1491.87" textLength="8.81" lengthAdjust="spacingAndGlyphs">D</text><text x="1500.68" textLength="7.18" lengthAdjust="spacingAndGlyphs">R</text><text x="1507.86" textLength="3.28" lengthAdjust="spacingAndGlyphs">.</text></g>
<g font-size="11.92" transform="translate(0 985.70)" stroke="#fff" stroke-width="0.08"><text x="1424.86" textLength="7.02" lengthAdjust="spacingAndGlyphs">Y</text><text x="1431.88" textLength="10.31" lengthAdjust="spacingAndGlyphs">O</text><text x="1442.19" textLength="7.20" lengthAdjust="spacingAndGlyphs">R</text><text x="1449.40" textLength="7.01" lengthAdjust="spacingAndGlyphs">K</text><text x="1456.41" textLength="3.29" lengthAdjust="spacingAndGlyphs">,</text><text x="1462.98" textLength="7.02" lengthAdjust="spacingAndGlyphs">P</text><text x="1470.01" textLength="8.78" lengthAdjust="spacingAndGlyphs">A</text><text x="1482.08" textLength="6.57" lengthAdjust="spacingAndGlyphs">1</text><text x="1488.65" textLength="6.57" lengthAdjust="spacingAndGlyphs">7</text><text x="1495.22" textLength="6.57" lengthAdjust="spacingAndGlyphs">4</text><text x="1501.80" textLength="6.57" lengthAdjust="spacingAndGlyphs">0</text><text x="1508.37" textLength="6.57" lengthAdjust="spacingAndGlyphs">2</text></g>
<g font-size="11.92" transform="translate(0 999.50)" stroke="#fff" stroke-width="0.08"><text x="1424.86" textLength="7.11" lengthAdjust="spacingAndGlyphs">P</text><text x="1431.97" textLength="8.20" lengthAdjust="spacingAndGlyphs">H</text><text x="1440.17" textLength="8.89" lengthAdjust="spacingAndGlyphs">N</text><text x="1449.05" textLength="3.33" lengthAdjust="spacingAndGlyphs">.</text><text x="1455.71" textLength="6.65" lengthAdjust="spacingAndGlyphs">1</text><text x="1462.36" textLength="3.99" lengthAdjust="spacingAndGlyphs">-</text><text x="1466.35" textLength="6.65" lengthAdjust="spacingAndGlyphs">8</text><text x="1473.00" textLength="6.65" lengthAdjust="spacingAndGlyphs">0</text><text x="1479.65" textLength="6.65" lengthAdjust="spacingAndGlyphs">0</text><text x="1486.30" textLength="3.99" lengthAdjust="spacingAndGlyphs">-</text><text x="1490.29" textLength="6.65" lengthAdjust="spacingAndGlyphs">6</text><text x="1496.94" textLength="6.65" lengthAdjust="spacingAndGlyphs">4</text><text x="1503.59" textLength="6.65" lengthAdjust="spacingAndGlyphs">5</text><text x="1510.25" textLength="3.99" lengthAdjust="spacingAndGlyphs">-</text><text x="1514.23" textLength="6.65" lengthAdjust="spacingAndGlyphs">8</text><text x="1520.89" textLength="6.65" lengthAdjust="spacingAndGlyphs">0</text><text x="1527.54" textLength="6.65" lengthAdjust="spacingAndGlyphs">0</text><text x="1534.19" textLength="6.65" lengthAdjust="spacingAndGlyphs">0</text></g>
<g font-size="12.52" transform="translate(0 1025.40)" stroke="#fff" stroke-width="0.09"><text x="1296.96" textLength="5.97" lengthAdjust="spacingAndGlyphs">T</text><text x="1302.93" textLength="3.17" lengthAdjust="spacingAndGlyphs">I</text><text x="1306.10" textLength="5.97" lengthAdjust="spacingAndGlyphs">T</text><text x="1312.07" textLength="6.48" lengthAdjust="spacingAndGlyphs">L</text><text x="1318.54" textLength="7.51" lengthAdjust="spacingAndGlyphs">E</text><text x="1326.06" textLength="3.88" lengthAdjust="spacingAndGlyphs">:</text></g>
<g font-size="19.39" transform="translate(0 1035.60)" stroke="#fff" stroke-width="0.23"><text x="1342.98" textLength="9.65" lengthAdjust="spacingAndGlyphs">F</text><text x="1352.64" textLength="13.04" lengthAdjust="spacingAndGlyphs">U</text><text x="1365.67" textLength="14.73" lengthAdjust="spacingAndGlyphs">N</text><text x="1380.40" textLength="14.81" lengthAdjust="spacingAndGlyphs">D</text><text x="1395.21" textLength="13.04" lengthAdjust="spacingAndGlyphs">U</text><text x="1408.25" textLength="9.91" lengthAdjust="spacingAndGlyphs">S</text><text x="1423.67" textLength="17.36" lengthAdjust="spacingAndGlyphs">G</text><text x="1441.03" textLength="12.08" lengthAdjust="spacingAndGlyphs">R</text><text x="1453.11" textLength="14.73" lengthAdjust="spacingAndGlyphs">A</text><text x="1467.84" textLength="9.91" lengthAdjust="spacingAndGlyphs">S</text><text x="1477.75" textLength="11.78" lengthAdjust="spacingAndGlyphs">P</text><text x="1489.53" textLength="4.50" lengthAdjust="spacingAndGlyphs">I</text><text x="1494.03" textLength="14.73" lengthAdjust="spacingAndGlyphs">N</text><text x="1508.76" textLength="17.36" lengthAdjust="spacingAndGlyphs">G</text></g>
<g font-size="19.39" transform="translate(0 1059.60)" stroke="#fff" stroke-width="0.23"><text x="1338.38" textLength="9.64" lengthAdjust="spacingAndGlyphs">F</text><text x="1348.02" textLength="17.27" lengthAdjust="spacingAndGlyphs">O</text><text x="1365.29" textLength="12.06" lengthAdjust="spacingAndGlyphs">R</text><text x="1377.36" textLength="16.16" lengthAdjust="spacingAndGlyphs">C</text><text x="1393.52" textLength="10.65" lengthAdjust="spacingAndGlyphs">E</text><text x="1404.17" textLength="11.77" lengthAdjust="spacingAndGlyphs">P</text><text x="1415.94" textLength="9.90" lengthAdjust="spacingAndGlyphs">S</text><text x="1425.83" textLength="5.51" lengthAdjust="spacingAndGlyphs">,</text><text x="1436.84" textLength="12.06" lengthAdjust="spacingAndGlyphs">R</text><text x="1448.91" textLength="17.27" lengthAdjust="spacingAndGlyphs">O</text><text x="1466.18" textLength="8.47" lengthAdjust="spacingAndGlyphs">T</text><text x="1474.65" textLength="17.27" lengthAdjust="spacingAndGlyphs">O</text><text x="1491.92" textLength="6.60" lengthAdjust="spacingAndGlyphs">-</text><text x="1498.52" textLength="9.18" lengthAdjust="spacingAndGlyphs">L</text><text x="1507.70" textLength="17.27" lengthAdjust="spacingAndGlyphs">O</text><text x="1524.97" textLength="11.75" lengthAdjust="spacingAndGlyphs">K</text></g>
<g font-size="19.39" transform="translate(0 1083.80)" stroke="#fff" stroke-width="0.23"><text x="1343.68" textLength="11.02" lengthAdjust="spacingAndGlyphs">3</text><text x="1354.70" textLength="5.51" lengthAdjust="spacingAndGlyphs">.</text><text x="1360.21" textLength="11.02" lengthAdjust="spacingAndGlyphs">5</text><text x="1371.22" textLength="18.65" lengthAdjust="spacingAndGlyphs">m</text><text x="1389.88" textLength="18.65" lengthAdjust="spacingAndGlyphs">m</text><text x="1408.53" textLength="5.51" lengthAdjust="spacingAndGlyphs">,</text><text x="1419.54" textLength="4.49" lengthAdjust="spacingAndGlyphs">I</text><text x="1424.04" textLength="14.71" lengthAdjust="spacingAndGlyphs">N</text><text x="1438.75" textLength="9.90" lengthAdjust="spacingAndGlyphs">S</text><text x="1448.66" textLength="13.02" lengthAdjust="spacingAndGlyphs">U</text><text x="1461.68" textLength="9.19" lengthAdjust="spacingAndGlyphs">L</text><text x="1470.87" textLength="14.71" lengthAdjust="spacingAndGlyphs">A</text><text x="1485.58" textLength="8.47" lengthAdjust="spacingAndGlyphs">T</text><text x="1494.05" textLength="10.66" lengthAdjust="spacingAndGlyphs">E</text><text x="1504.71" textLength="14.79" lengthAdjust="spacingAndGlyphs">D</text><text x="1519.50" textLength="5.51" lengthAdjust="spacingAndGlyphs">,</text></g>
<g font-size="19.39" transform="translate(0 1107.80)" stroke="#fff" stroke-width="0.23"><text x="1402.08" textLength="11.03" lengthAdjust="spacingAndGlyphs">3</text><text x="1413.11" textLength="11.03" lengthAdjust="spacingAndGlyphs">2</text><text x="1424.14" textLength="11.03" lengthAdjust="spacingAndGlyphs">0</text><text x="1435.17" textLength="18.67" lengthAdjust="spacingAndGlyphs">m</text><text x="1453.84" textLength="18.67" lengthAdjust="spacingAndGlyphs">m</text></g>
<g font-size="12.52" transform="translate(0 1127.00)" stroke="#fff" stroke-width="0.09"><text x="1296.96" textLength="7.00" lengthAdjust="spacingAndGlyphs">P</text><text x="1303.95" textLength="8.75" lengthAdjust="spacingAndGlyphs">A</text><text x="1312.70" textLength="7.18" lengthAdjust="spacingAndGlyphs">R</text><text x="1319.88" textLength="5.04" lengthAdjust="spacingAndGlyphs">T</text><text x="1325.37" textLength="4.24" lengthAdjust="spacingAndGlyphs">/</text><text x="1330.08" textLength="8.79" lengthAdjust="spacingAndGlyphs">D</text><text x="1338.87" textLength="11.35" lengthAdjust="spacingAndGlyphs">W</text><text x="1350.22" textLength="10.31" lengthAdjust="spacingAndGlyphs">G</text><text x="1360.53" textLength="3.27" lengthAdjust="spacingAndGlyphs">.</text><text x="1367.08" textLength="8.75" lengthAdjust="spacingAndGlyphs">N</text><text x="1375.82" textLength="7.74" lengthAdjust="spacingAndGlyphs">o</text><text x="1383.57" textLength="3.27" lengthAdjust="spacingAndGlyphs">.</text></g>
<g font-size="20.81" transform="translate(0 1147.10)" stroke="#fff" stroke-width="0.25"><text x="1395.08" textLength="13.59" lengthAdjust="spacingAndGlyphs">6</text><text x="1408.67" textLength="13.59" lengthAdjust="spacingAndGlyphs">3</text><text x="1422.26" textLength="13.59" lengthAdjust="spacingAndGlyphs">2</text><text x="1435.85" textLength="13.59" lengthAdjust="spacingAndGlyphs">1</text><text x="1449.44" textLength="13.59" lengthAdjust="spacingAndGlyphs">0</text><text x="1463.04" textLength="13.59" lengthAdjust="spacingAndGlyphs">7</text></g>
<g font-size="11.11" transform="translate(0 1167.70)" stroke="#fff" stroke-width="0.08"><text x="1297.46" textLength="6.12" lengthAdjust="spacingAndGlyphs">S</text><text x="1303.58" textLength="2.78" lengthAdjust="spacingAndGlyphs">I</text><text x="1306.36" textLength="5.90" lengthAdjust="spacingAndGlyphs">Z</text><text x="1312.25" textLength="6.59" lengthAdjust="spacingAndGlyphs">E</text></g>
<g font-size="20.81" transform="translate(0 1188.60)" font-weight="700"><text x="1299.60" textLength="17.10" lengthAdjust="spacingAndGlyphs">A</text></g>
<g font-size="13.74" transform="translate(0 1179.60)" stroke="#fff" stroke-width="0.10"><text x="1345.65" textLength="7.02" lengthAdjust="spacingAndGlyphs">S</text><text x="1352.67" textLength="11.45" lengthAdjust="spacingAndGlyphs">C</text><text x="1364.12" textLength="10.42" lengthAdjust="spacingAndGlyphs">A</text><text x="1374.54" textLength="6.51" lengthAdjust="spacingAndGlyphs">L</text><text x="1381.05" textLength="7.55" lengthAdjust="spacingAndGlyphs">E</text><text x="1388.60" textLength="3.90" lengthAdjust="spacingAndGlyphs">:</text><text x="1396.41" textLength="10.42" lengthAdjust="spacingAndGlyphs">N</text><text x="1406.83" textLength="6.00" lengthAdjust="spacingAndGlyphs">T</text><text x="1412.83" textLength="7.02" lengthAdjust="spacingAndGlyphs">S</text></g>
<g font-size="13.74" transform="translate(0 1179.60)" stroke="#fff" stroke-width="0.10"><text x="1450.35" textLength="6.85" lengthAdjust="spacingAndGlyphs">S</text><text x="1457.20" textLength="9.39" lengthAdjust="spacingAndGlyphs">H</text><text x="1466.59" textLength="7.37" lengthAdjust="spacingAndGlyphs">E</text><text x="1473.96" textLength="7.37" lengthAdjust="spacingAndGlyphs">E</text><text x="1481.32" textLength="5.86" lengthAdjust="spacingAndGlyphs">T</text><text x="1490.99" textLength="7.62" lengthAdjust="spacingAndGlyphs">1</text><text x="1502.41" textLength="11.95" lengthAdjust="spacingAndGlyphs">O</text><text x="1514.36" textLength="6.67" lengthAdjust="spacingAndGlyphs">F</text><text x="1524.83" textLength="7.62" lengthAdjust="spacingAndGlyphs">1</text></g>
<g font-size="14.04" transform="translate(0 933.20)" stroke="#fff" stroke-width="0.10"><text x="39.95" textLength="10.68" lengthAdjust="spacingAndGlyphs">N</text><text x="50.63" textLength="12.54" lengthAdjust="spacingAndGlyphs">O</text><text x="63.17" textLength="6.15" lengthAdjust="spacingAndGlyphs">T</text><text x="69.32" textLength="7.74" lengthAdjust="spacingAndGlyphs">E</text><text x="77.06" textLength="7.19" lengthAdjust="spacingAndGlyphs">S</text><text x="84.25" textLength="4.00" lengthAdjust="spacingAndGlyphs">:</text></g>
<g font-size="14.04" transform="translate(0 950.30)" stroke="#fff" stroke-width="0.10"><text x="40.15" textLength="7.66" lengthAdjust="spacingAndGlyphs">1</text><text x="47.81" textLength="3.83" lengthAdjust="spacingAndGlyphs">.</text></g>
<g font-size="14.04" transform="translate(0 950.30)" stroke="#fff" stroke-width="0.10"><text x="59.65" textLength="8.50" lengthAdjust="spacingAndGlyphs">P</text><text x="68.15" textLength="10.62" lengthAdjust="spacingAndGlyphs">A</text><text x="78.77" textLength="8.71" lengthAdjust="spacingAndGlyphs">R</text><text x="87.48" textLength="6.11" lengthAdjust="spacingAndGlyphs">T</text><text x="93.60" textLength="7.15" lengthAdjust="spacingAndGlyphs">S</text><text x="104.72" textLength="7.15" lengthAdjust="spacingAndGlyphs">S</text><text x="111.87" textLength="9.80" lengthAdjust="spacingAndGlyphs">H</text><text x="121.67" textLength="10.62" lengthAdjust="spacingAndGlyphs">A</text><text x="132.29" textLength="6.63" lengthAdjust="spacingAndGlyphs">L</text><text x="138.92" textLength="6.63" lengthAdjust="spacingAndGlyphs">L</text><text x="149.53" textLength="8.24" lengthAdjust="spacingAndGlyphs">B</text><text x="157.77" textLength="7.69" lengthAdjust="spacingAndGlyphs">E</text><text x="169.44" textLength="6.96" lengthAdjust="spacingAndGlyphs">F</text><text x="176.40" textLength="8.71" lengthAdjust="spacingAndGlyphs">R</text><text x="185.11" textLength="7.69" lengthAdjust="spacingAndGlyphs">E</text><text x="192.81" textLength="7.69" lengthAdjust="spacingAndGlyphs">E</text><text x="204.47" textLength="12.47" lengthAdjust="spacingAndGlyphs">O</text><text x="216.95" textLength="6.96" lengthAdjust="spacingAndGlyphs">F</text><text x="227.88" textLength="10.68" lengthAdjust="spacingAndGlyphs">D</text><text x="238.56" textLength="3.24" lengthAdjust="spacingAndGlyphs">I</text><text x="241.81" textLength="8.71" lengthAdjust="spacingAndGlyphs">R</text><text x="250.52" textLength="6.11" lengthAdjust="spacingAndGlyphs">T</text><text x="256.63" textLength="3.98" lengthAdjust="spacingAndGlyphs">,</text><text x="264.59" textLength="12.47" lengthAdjust="spacingAndGlyphs">O</text><text x="277.06" textLength="3.24" lengthAdjust="spacingAndGlyphs">I</text><text x="280.30" textLength="6.63" lengthAdjust="spacingAndGlyphs">L</text><text x="286.93" textLength="3.98" lengthAdjust="spacingAndGlyphs">,</text><text x="294.89" textLength="11.67" lengthAdjust="spacingAndGlyphs">C</text><text x="306.55" textLength="12.47" lengthAdjust="spacingAndGlyphs">O</text><text x="319.03" textLength="10.62" lengthAdjust="spacingAndGlyphs">N</text><text x="329.65" textLength="6.11" lengthAdjust="spacingAndGlyphs">T</text><text x="335.76" textLength="10.62" lengthAdjust="spacingAndGlyphs">A</text><text x="346.38" textLength="13.19" lengthAdjust="spacingAndGlyphs">M</text><text x="359.58" textLength="3.24" lengthAdjust="spacingAndGlyphs">I</text><text x="362.82" textLength="10.62" lengthAdjust="spacingAndGlyphs">N</text><text x="373.44" textLength="10.62" lengthAdjust="spacingAndGlyphs">A</text><text x="384.06" textLength="6.11" lengthAdjust="spacingAndGlyphs">T</text><text x="390.18" textLength="3.24" lengthAdjust="spacingAndGlyphs">I</text><text x="393.42" textLength="12.47" lengthAdjust="spacingAndGlyphs">O</text><text x="405.89" textLength="10.62" lengthAdjust="spacingAndGlyphs">N</text><text x="416.51" textLength="3.98" lengthAdjust="spacingAndGlyphs">,</text><text x="424.47" textLength="8.24" lengthAdjust="spacingAndGlyphs">B</text><text x="432.70" textLength="9.40" lengthAdjust="spacingAndGlyphs">U</text><text x="442.11" textLength="8.71" lengthAdjust="spacingAndGlyphs">R</text><text x="450.82" textLength="8.71" lengthAdjust="spacingAndGlyphs">R</text><text x="459.53" textLength="7.15" lengthAdjust="spacingAndGlyphs">S</text><text x="466.68" textLength="3.98" lengthAdjust="spacingAndGlyphs">,</text><text x="474.63" textLength="10.62" lengthAdjust="spacingAndGlyphs">A</text><text x="485.25" textLength="10.62" lengthAdjust="spacingAndGlyphs">N</text><text x="495.87" textLength="10.68" lengthAdjust="spacingAndGlyphs">D</text></g>
<g font-size="14.04" transform="translate(0 967.00)" stroke="#fff" stroke-width="0.10"><text x="59.65" textLength="10.14" lengthAdjust="spacingAndGlyphs">V</text><text x="69.79" textLength="3.27" lengthAdjust="spacingAndGlyphs">I</text><text x="73.06" textLength="7.20" lengthAdjust="spacingAndGlyphs">S</text><text x="80.26" textLength="9.46" lengthAdjust="spacingAndGlyphs">U</text><text x="89.72" textLength="10.69" lengthAdjust="spacingAndGlyphs">A</text><text x="100.42" textLength="6.68" lengthAdjust="spacingAndGlyphs">L</text><text x="111.09" textLength="10.75" lengthAdjust="spacingAndGlyphs">D</text><text x="121.84" textLength="7.75" lengthAdjust="spacingAndGlyphs">E</text><text x="129.59" textLength="7.01" lengthAdjust="spacingAndGlyphs">F</text><text x="136.60" textLength="7.75" lengthAdjust="spacingAndGlyphs">E</text><text x="144.34" textLength="11.75" lengthAdjust="spacingAndGlyphs">C</text><text x="156.09" textLength="6.16" lengthAdjust="spacingAndGlyphs">T</text><text x="162.25" textLength="7.20" lengthAdjust="spacingAndGlyphs">S</text><text x="169.44" textLength="4.00" lengthAdjust="spacingAndGlyphs">.</text></g>
<g font-size="14.04" transform="translate(0 984.00)" stroke="#fff" stroke-width="0.10"><text x="40.15" textLength="7.66" lengthAdjust="spacingAndGlyphs">2</text><text x="47.81" textLength="3.83" lengthAdjust="spacingAndGlyphs">.</text></g>
<g font-size="14.04" transform="translate(0 984.00)" stroke="#fff" stroke-width="0.10"><text x="59.65" textLength="11.66" lengthAdjust="spacingAndGlyphs">C</text><text x="71.31" textLength="7.69" lengthAdjust="spacingAndGlyphs">E</text><text x="79.00" textLength="8.71" lengthAdjust="spacingAndGlyphs">R</text><text x="87.71" textLength="6.11" lengthAdjust="spacingAndGlyphs">T</text><text x="93.82" textLength="3.24" lengthAdjust="spacingAndGlyphs">I</text><text x="97.06" textLength="6.96" lengthAdjust="spacingAndGlyphs">F</text><text x="104.02" textLength="3.24" lengthAdjust="spacingAndGlyphs">I</text><text x="107.26" textLength="11.66" lengthAdjust="spacingAndGlyphs">C</text><text x="118.92" textLength="10.61" lengthAdjust="spacingAndGlyphs">A</text><text x="129.54" textLength="6.11" lengthAdjust="spacingAndGlyphs">T</text><text x="135.65" textLength="7.69" lengthAdjust="spacingAndGlyphs">E</text><text x="147.31" textLength="12.47" lengthAdjust="spacingAndGlyphs">O</text><text x="159.77" textLength="6.96" lengthAdjust="spacingAndGlyphs">F</text><text x="170.70" textLength="10.61" lengthAdjust="spacingAndGlyphs">A</text><text x="181.32" textLength="10.61" lengthAdjust="spacingAndGlyphs">N</text><text x="191.93" textLength="10.61" lengthAdjust="spacingAndGlyphs">A</text><text x="202.55" textLength="6.63" lengthAdjust="spacingAndGlyphs">L</text><text x="209.18" textLength="8.49" lengthAdjust="spacingAndGlyphs">Y</text><text x="217.67" textLength="7.14" lengthAdjust="spacingAndGlyphs">S</text><text x="224.81" textLength="3.24" lengthAdjust="spacingAndGlyphs">I</text><text x="228.05" textLength="7.14" lengthAdjust="spacingAndGlyphs">S</text><text x="239.17" textLength="7.14" lengthAdjust="spacingAndGlyphs">S</text><text x="246.31" textLength="9.80" lengthAdjust="spacingAndGlyphs">H</text><text x="256.11" textLength="10.61" lengthAdjust="spacingAndGlyphs">A</text><text x="266.72" textLength="6.63" lengthAdjust="spacingAndGlyphs">L</text><text x="273.35" textLength="6.63" lengthAdjust="spacingAndGlyphs">L</text><text x="283.95" textLength="8.23" lengthAdjust="spacingAndGlyphs">B</text><text x="292.19" textLength="7.69" lengthAdjust="spacingAndGlyphs">E</text><text x="303.85" textLength="8.49" lengthAdjust="spacingAndGlyphs">P</text><text x="312.34" textLength="8.71" lengthAdjust="spacingAndGlyphs">R</text><text x="321.05" textLength="12.47" lengthAdjust="spacingAndGlyphs">O</text><text x="333.51" textLength="10.07" lengthAdjust="spacingAndGlyphs">V</text><text x="343.58" textLength="3.24" lengthAdjust="spacingAndGlyphs">I</text><text x="346.82" textLength="10.67" lengthAdjust="spacingAndGlyphs">D</text><text x="357.50" textLength="7.69" lengthAdjust="spacingAndGlyphs">E</text><text x="365.18" textLength="10.67" lengthAdjust="spacingAndGlyphs">D</text><text x="379.83" textLength="9.40" lengthAdjust="spacingAndGlyphs">U</text><text x="389.22" textLength="8.49" lengthAdjust="spacingAndGlyphs">P</text><text x="397.72" textLength="12.47" lengthAdjust="spacingAndGlyphs">O</text><text x="410.18" textLength="10.61" lengthAdjust="spacingAndGlyphs">N</text><text x="424.77" textLength="8.71" lengthAdjust="spacingAndGlyphs">R</text><text x="433.48" textLength="7.69" lengthAdjust="spacingAndGlyphs">E</text><text x="441.17" textLength="12.49" lengthAdjust="spacingAndGlyphs">Q</text><text x="453.66" textLength="9.40" lengthAdjust="spacingAndGlyphs">U</text><text x="463.05" textLength="7.69" lengthAdjust="spacingAndGlyphs">E</text><text x="470.74" textLength="7.14" lengthAdjust="spacingAndGlyphs">S</text><text x="477.89" textLength="6.11" lengthAdjust="spacingAndGlyphs">T</text><text x="487.97" textLength="6.11" lengthAdjust="spacingAndGlyphs">T</text><text x="494.08" textLength="12.47" lengthAdjust="spacingAndGlyphs">O</text></g>
<g font-size="14.04" transform="translate(0 1002.30)" stroke="#fff" stroke-width="0.10"><text x="59.65" textLength="3.26" lengthAdjust="spacingAndGlyphs">I</text><text x="62.91" textLength="10.74" lengthAdjust="spacingAndGlyphs">D</text><text x="73.65" textLength="7.74" lengthAdjust="spacingAndGlyphs">E</text><text x="81.39" textLength="10.68" lengthAdjust="spacingAndGlyphs">N</text><text x="92.07" textLength="6.15" lengthAdjust="spacingAndGlyphs">T</text><text x="98.22" textLength="3.26" lengthAdjust="spacingAndGlyphs">I</text><text x="101.49" textLength="7.00" lengthAdjust="spacingAndGlyphs">F</text><text x="108.49" textLength="8.55" lengthAdjust="spacingAndGlyphs">Y</text><text x="121.03" textLength="6.15" lengthAdjust="spacingAndGlyphs">T</text><text x="127.18" textLength="9.86" lengthAdjust="spacingAndGlyphs">H</text><text x="137.04" textLength="7.74" lengthAdjust="spacingAndGlyphs">E</text><text x="148.78" textLength="7.00" lengthAdjust="spacingAndGlyphs">F</text><text x="155.78" textLength="12.55" lengthAdjust="spacingAndGlyphs">O</text><text x="168.33" textLength="6.67" lengthAdjust="spacingAndGlyphs">L</text><text x="175.00" textLength="6.67" lengthAdjust="spacingAndGlyphs">L</text><text x="181.67" textLength="12.55" lengthAdjust="spacingAndGlyphs">O</text><text x="194.21" textLength="13.86" lengthAdjust="spacingAndGlyphs">W</text><text x="208.07" textLength="3.26" lengthAdjust="spacingAndGlyphs">I</text><text x="211.33" textLength="10.68" lengthAdjust="spacingAndGlyphs">N</text><text x="222.01" textLength="12.59" lengthAdjust="spacingAndGlyphs">G</text><text x="234.60" textLength="4.00" lengthAdjust="spacingAndGlyphs">:</text><text x="242.60" textLength="9.86" lengthAdjust="spacingAndGlyphs">H</text><text x="252.46" textLength="7.74" lengthAdjust="spacingAndGlyphs">E</text><text x="260.20" textLength="10.68" lengthAdjust="spacingAndGlyphs">A</text><text x="270.88" textLength="6.15" lengthAdjust="spacingAndGlyphs">T</text><text x="277.81" textLength="4.76" lengthAdjust="spacingAndGlyphs">/</text><text x="283.34" textLength="8.29" lengthAdjust="spacingAndGlyphs">B</text><text x="291.63" textLength="10.68" lengthAdjust="spacingAndGlyphs">A</text><text x="302.31" textLength="6.15" lengthAdjust="spacingAndGlyphs">T</text><text x="308.46" textLength="11.74" lengthAdjust="spacingAndGlyphs">C</text><text x="320.20" textLength="9.86" lengthAdjust="spacingAndGlyphs">H</text><text x="330.83" textLength="4.76" lengthAdjust="spacingAndGlyphs">/</text><text x="336.36" textLength="6.67" lengthAdjust="spacingAndGlyphs">L</text><text x="343.03" textLength="12.55" lengthAdjust="spacingAndGlyphs">O</text><text x="355.58" textLength="6.15" lengthAdjust="spacingAndGlyphs">T</text><text x="365.73" textLength="8.00" lengthAdjust="spacingAndGlyphs">#</text><text x="373.72" textLength="4.00" lengthAdjust="spacingAndGlyphs">,</text><text x="381.72" textLength="13.27" lengthAdjust="spacingAndGlyphs">M</text><text x="394.99" textLength="10.68" lengthAdjust="spacingAndGlyphs">A</text><text x="405.67" textLength="6.15" lengthAdjust="spacingAndGlyphs">T</text><text x="411.82" textLength="7.74" lengthAdjust="spacingAndGlyphs">E</text><text x="419.56" textLength="8.76" lengthAdjust="spacingAndGlyphs">R</text><text x="428.32" textLength="3.26" lengthAdjust="spacingAndGlyphs">I</text><text x="431.58" textLength="10.68" lengthAdjust="spacingAndGlyphs">A</text><text x="442.27" textLength="6.67" lengthAdjust="spacingAndGlyphs">L</text><text x="452.94" textLength="12.59" lengthAdjust="spacingAndGlyphs">G</text><text x="465.52" textLength="8.76" lengthAdjust="spacingAndGlyphs">R</text><text x="474.29" textLength="10.68" lengthAdjust="spacingAndGlyphs">A</text><text x="484.97" textLength="10.74" lengthAdjust="spacingAndGlyphs">D</text><text x="495.71" textLength="7.74" lengthAdjust="spacingAndGlyphs">E</text><text x="503.45" textLength="4.00" lengthAdjust="spacingAndGlyphs">,</text></g>
<g font-size="14.04" transform="translate(0 1016.80)" stroke="#fff" stroke-width="0.10"><text x="59.65" textLength="13.16" lengthAdjust="spacingAndGlyphs">M</text><text x="72.81" textLength="10.60" lengthAdjust="spacingAndGlyphs">A</text><text x="83.41" textLength="6.10" lengthAdjust="spacingAndGlyphs">T</text><text x="89.51" textLength="7.68" lengthAdjust="spacingAndGlyphs">E</text><text x="97.19" textLength="8.69" lengthAdjust="spacingAndGlyphs">R</text><text x="105.88" textLength="3.24" lengthAdjust="spacingAndGlyphs">I</text><text x="109.12" textLength="10.60" lengthAdjust="spacingAndGlyphs">A</text><text x="119.71" textLength="6.62" lengthAdjust="spacingAndGlyphs">L</text><text x="130.30" textLength="7.13" lengthAdjust="spacingAndGlyphs">S</text><text x="137.43" textLength="6.10" lengthAdjust="spacingAndGlyphs">T</text><text x="143.53" textLength="10.60" lengthAdjust="spacingAndGlyphs">A</text><text x="154.13" textLength="10.60" lengthAdjust="spacingAndGlyphs">N</text><text x="164.72" textLength="10.65" lengthAdjust="spacingAndGlyphs">D</text><text x="175.38" textLength="10.60" lengthAdjust="spacingAndGlyphs">A</text><text x="185.98" textLength="8.69" lengthAdjust="spacingAndGlyphs">R</text><text x="194.67" textLength="10.65" lengthAdjust="spacingAndGlyphs">D</text><text x="205.32" textLength="3.97" lengthAdjust="spacingAndGlyphs">,</text><text x="213.26" textLength="10.60" lengthAdjust="spacingAndGlyphs">A</text><text x="223.85" textLength="10.60" lengthAdjust="spacingAndGlyphs">N</text><text x="234.45" textLength="10.65" lengthAdjust="spacingAndGlyphs">D</text><text x="249.07" textLength="11.64" lengthAdjust="spacingAndGlyphs">C</text><text x="260.72" textLength="9.78" lengthAdjust="spacingAndGlyphs">H</text><text x="270.50" textLength="7.68" lengthAdjust="spacingAndGlyphs">E</text><text x="278.17" textLength="13.16" lengthAdjust="spacingAndGlyphs">M</text><text x="291.33" textLength="3.24" lengthAdjust="spacingAndGlyphs">I</text><text x="294.57" textLength="11.64" lengthAdjust="spacingAndGlyphs">C</text><text x="306.21" textLength="10.60" lengthAdjust="spacingAndGlyphs">A</text><text x="316.81" textLength="6.62" lengthAdjust="spacingAndGlyphs">L</text><text x="327.39" textLength="10.60" lengthAdjust="spacingAndGlyphs">A</text><text x="337.99" textLength="10.60" lengthAdjust="spacingAndGlyphs">N</text><text x="348.59" textLength="10.60" lengthAdjust="spacingAndGlyphs">A</text><text x="359.19" textLength="6.62" lengthAdjust="spacingAndGlyphs">L</text><text x="365.80" textLength="8.48" lengthAdjust="spacingAndGlyphs">Y</text><text x="374.28" textLength="7.13" lengthAdjust="spacingAndGlyphs">S</text><text x="381.41" textLength="3.24" lengthAdjust="spacingAndGlyphs">I</text><text x="384.65" textLength="7.13" lengthAdjust="spacingAndGlyphs">S</text><text x="391.78" textLength="3.97" lengthAdjust="spacingAndGlyphs">.</text></g>
<g font-size="14.04" transform="translate(0 1033.00)" stroke="#fff" stroke-width="0.10"><text x="40.15" textLength="7.66" lengthAdjust="spacingAndGlyphs">3</text><text x="47.81" textLength="3.83" lengthAdjust="spacingAndGlyphs">.</text></g>
<g font-size="14.04" transform="translate(0 1033.00)" stroke="#fff" stroke-width="0.10"><text x="59.65" textLength="10.73" lengthAdjust="spacingAndGlyphs">D</text><text x="70.39" textLength="3.26" lengthAdjust="spacingAndGlyphs">I</text><text x="73.65" textLength="13.26" lengthAdjust="spacingAndGlyphs">M</text><text x="86.90" textLength="7.73" lengthAdjust="spacingAndGlyphs">E</text><text x="94.64" textLength="10.68" lengthAdjust="spacingAndGlyphs">N</text><text x="105.31" textLength="7.18" lengthAdjust="spacingAndGlyphs">S</text><text x="112.50" textLength="3.26" lengthAdjust="spacingAndGlyphs">I</text><text x="115.76" textLength="12.54" lengthAdjust="spacingAndGlyphs">O</text><text x="128.30" textLength="10.68" lengthAdjust="spacingAndGlyphs">N</text><text x="138.97" textLength="7.18" lengthAdjust="spacingAndGlyphs">S</text><text x="150.16" textLength="3.26" lengthAdjust="spacingAndGlyphs">I</text><text x="153.42" textLength="10.73" lengthAdjust="spacingAndGlyphs">D</text><text x="164.15" textLength="7.73" lengthAdjust="spacingAndGlyphs">E</text><text x="171.88" textLength="10.68" lengthAdjust="spacingAndGlyphs">N</text><text x="182.56" textLength="6.15" lengthAdjust="spacingAndGlyphs">T</text><text x="188.71" textLength="3.26" lengthAdjust="spacingAndGlyphs">I</text><text x="191.97" textLength="7.00" lengthAdjust="spacingAndGlyphs">F</text><text x="198.96" textLength="3.26" lengthAdjust="spacingAndGlyphs">I</text><text x="202.22" textLength="7.73" lengthAdjust="spacingAndGlyphs">E</text><text x="209.96" textLength="10.73" lengthAdjust="spacingAndGlyphs">D</text><text x="224.69" textLength="8.28" lengthAdjust="spacingAndGlyphs">B</text><text x="232.97" textLength="8.54" lengthAdjust="spacingAndGlyphs">Y</text><text x="245.51" textLength="10.68" lengthAdjust="spacingAndGlyphs">A</text><text x="256.18" textLength="10.68" lengthAdjust="spacingAndGlyphs">N</text><text x="270.89" textLength="5.70" lengthAdjust="spacingAndGlyphs">“</text><text x="276.63" textLength="6.13" lengthAdjust="spacingAndGlyphs">*</text><text x="282.79" textLength="5.70" lengthAdjust="spacingAndGlyphs">”</text><text x="292.53" textLength="10.68" lengthAdjust="spacingAndGlyphs">A</text><text x="303.20" textLength="8.76" lengthAdjust="spacingAndGlyphs">R</text><text x="311.96" textLength="7.73" lengthAdjust="spacingAndGlyphs">E</text><text x="323.69" textLength="11.73" lengthAdjust="spacingAndGlyphs">C</text><text x="335.42" textLength="8.76" lengthAdjust="spacingAndGlyphs">R</text><text x="344.18" textLength="3.26" lengthAdjust="spacingAndGlyphs">I</text><text x="347.44" textLength="6.15" lengthAdjust="spacingAndGlyphs">T</text><text x="353.59" textLength="3.26" lengthAdjust="spacingAndGlyphs">I</text><text x="356.85" textLength="11.73" lengthAdjust="spacingAndGlyphs">C</text><text x="368.58" textLength="10.68" lengthAdjust="spacingAndGlyphs">A</text><text x="379.25" textLength="6.67" lengthAdjust="spacingAndGlyphs">L</text><text x="389.91" textLength="7.00" lengthAdjust="spacingAndGlyphs">F</text><text x="396.91" textLength="12.54" lengthAdjust="spacingAndGlyphs">O</text><text x="409.45" textLength="8.76" lengthAdjust="spacingAndGlyphs">R</text><text x="422.20" textLength="3.26" lengthAdjust="spacingAndGlyphs">I</text><text x="425.46" textLength="10.68" lengthAdjust="spacingAndGlyphs">N</text><text x="436.14" textLength="7.18" lengthAdjust="spacingAndGlyphs">S</text><text x="443.33" textLength="8.54" lengthAdjust="spacingAndGlyphs">P</text><text x="451.87" textLength="7.73" lengthAdjust="spacingAndGlyphs">E</text><text x="459.60" textLength="11.73" lengthAdjust="spacingAndGlyphs">C</text><text x="471.33" textLength="6.15" lengthAdjust="spacingAndGlyphs">T</text><text x="477.48" textLength="3.26" lengthAdjust="spacingAndGlyphs">I</text><text x="480.74" textLength="12.54" lengthAdjust="spacingAndGlyphs">O</text><text x="493.27" textLength="10.68" lengthAdjust="spacingAndGlyphs">N</text><text x="503.95" textLength="4.00" lengthAdjust="spacingAndGlyphs">.</text></g>
<g font-size="14.04" transform="translate(0 1050.30)" stroke="#fff" stroke-width="0.10"><text x="40.15" textLength="7.66" lengthAdjust="spacingAndGlyphs">4</text><text x="47.81" textLength="3.83" lengthAdjust="spacingAndGlyphs">.</text></g>
<g font-size="14.04" transform="translate(0 1050.30)" stroke="#fff" stroke-width="0.10"><text x="59.65" textLength="8.49" lengthAdjust="spacingAndGlyphs">P</text><text x="68.14" textLength="10.61" lengthAdjust="spacingAndGlyphs">A</text><text x="78.76" textLength="7.14" lengthAdjust="spacingAndGlyphs">S</text><text x="85.90" textLength="7.14" lengthAdjust="spacingAndGlyphs">S</text><text x="93.04" textLength="3.24" lengthAdjust="spacingAndGlyphs">I</text><text x="96.28" textLength="10.07" lengthAdjust="spacingAndGlyphs">V</text><text x="106.35" textLength="10.61" lengthAdjust="spacingAndGlyphs">A</text><text x="116.97" textLength="6.11" lengthAdjust="spacingAndGlyphs">T</text><text x="123.08" textLength="3.24" lengthAdjust="spacingAndGlyphs">I</text><text x="126.32" textLength="12.46" lengthAdjust="spacingAndGlyphs">O</text><text x="138.78" textLength="10.61" lengthAdjust="spacingAndGlyphs">N</text><text x="149.40" textLength="3.97" lengthAdjust="spacingAndGlyphs">:</text><text x="157.35" textLength="13.18" lengthAdjust="spacingAndGlyphs">M</text><text x="170.53" textLength="3.24" lengthAdjust="spacingAndGlyphs">I</text><text x="173.77" textLength="10.61" lengthAdjust="spacingAndGlyphs">N</text><text x="184.38" textLength="3.24" lengthAdjust="spacingAndGlyphs">I</text><text x="187.62" textLength="13.18" lengthAdjust="spacingAndGlyphs">M</text><text x="200.81" textLength="9.40" lengthAdjust="spacingAndGlyphs">U</text><text x="210.20" textLength="13.18" lengthAdjust="spacingAndGlyphs">M</text><text x="227.36" textLength="8.71" lengthAdjust="spacingAndGlyphs">R</text><text x="236.06" textLength="7.69" lengthAdjust="spacingAndGlyphs">E</text><text x="243.75" textLength="12.49" lengthAdjust="spacingAndGlyphs">Q</text><text x="256.24" textLength="9.40" lengthAdjust="spacingAndGlyphs">U</text><text x="265.64" textLength="3.24" lengthAdjust="spacingAndGlyphs">I</text><text x="268.88" textLength="8.71" lengthAdjust="spacingAndGlyphs">R</text><text x="277.59" textLength="7.69" lengthAdjust="spacingAndGlyphs">E</text><text x="285.28" textLength="13.18" lengthAdjust="spacingAndGlyphs">M</text><text x="298.46" textLength="7.69" lengthAdjust="spacingAndGlyphs">E</text><text x="306.15" textLength="10.61" lengthAdjust="spacingAndGlyphs">N</text><text x="316.76" textLength="6.11" lengthAdjust="spacingAndGlyphs">T</text><text x="322.87" textLength="7.14" lengthAdjust="spacingAndGlyphs">S</text><text x="333.99" textLength="7.14" lengthAdjust="spacingAndGlyphs">S</text><text x="341.13" textLength="9.80" lengthAdjust="spacingAndGlyphs">H</text><text x="350.93" textLength="10.61" lengthAdjust="spacingAndGlyphs">A</text><text x="361.54" textLength="6.63" lengthAdjust="spacingAndGlyphs">L</text><text x="368.17" textLength="6.63" lengthAdjust="spacingAndGlyphs">L</text><text x="378.77" textLength="8.23" lengthAdjust="spacingAndGlyphs">B</text><text x="387.00" textLength="7.69" lengthAdjust="spacingAndGlyphs">E</text><text x="398.66" textLength="3.24" lengthAdjust="spacingAndGlyphs">I</text><text x="401.90" textLength="10.61" lengthAdjust="spacingAndGlyphs">N</text><text x="416.49" textLength="10.61" lengthAdjust="spacingAndGlyphs">A</text><text x="427.11" textLength="11.66" lengthAdjust="spacingAndGlyphs">C</text><text x="438.77" textLength="11.66" lengthAdjust="spacingAndGlyphs">C</text><text x="450.43" textLength="12.46" lengthAdjust="spacingAndGlyphs">O</text><text x="462.89" textLength="8.71" lengthAdjust="spacingAndGlyphs">R</text><text x="471.60" textLength="10.67" lengthAdjust="spacingAndGlyphs">D</text><text x="482.27" textLength="10.61" lengthAdjust="spacingAndGlyphs">A</text><text x="492.89" textLength="10.61" lengthAdjust="spacingAndGlyphs">N</text><text x="503.50" textLength="11.66" lengthAdjust="spacingAndGlyphs">C</text><text x="515.16" textLength="7.69" lengthAdjust="spacingAndGlyphs">E</text></g>
<g font-size="14.04" transform="translate(0 1067.20)" stroke="#fff" stroke-width="0.10"><text x="59.65" textLength="13.83" lengthAdjust="spacingAndGlyphs">W</text><text x="73.48" textLength="3.26" lengthAdjust="spacingAndGlyphs">I</text><text x="76.74" textLength="6.14" lengthAdjust="spacingAndGlyphs">T</text><text x="82.87" textLength="9.84" lengthAdjust="spacingAndGlyphs">H</text><text x="96.70" textLength="10.66" lengthAdjust="spacingAndGlyphs">A</text><text x="107.36" textLength="7.17" lengthAdjust="spacingAndGlyphs">S</text><text x="114.54" textLength="6.14" lengthAdjust="spacingAndGlyphs">T</text><text x="120.68" textLength="13.24" lengthAdjust="spacingAndGlyphs">M</text><text x="137.91" textLength="10.66" lengthAdjust="spacingAndGlyphs">A</text><text x="148.57" textLength="7.98" lengthAdjust="spacingAndGlyphs">9</text><text x="156.55" textLength="7.98" lengthAdjust="spacingAndGlyphs">6</text><text x="164.53" textLength="7.98" lengthAdjust="spacingAndGlyphs">7</text><text x="172.51" textLength="4.78" lengthAdjust="spacingAndGlyphs">-</text><text x="177.29" textLength="7.98" lengthAdjust="spacingAndGlyphs">0</text><text x="185.27" textLength="7.98" lengthAdjust="spacingAndGlyphs">5</text><text x="193.26" textLength="3.99" lengthAdjust="spacingAndGlyphs">.</text></g>
<g font-size="14.04" transform="translate(0 1084.00)" stroke="#fff" stroke-width="0.10"><text x="40.15" textLength="7.66" lengthAdjust="spacingAndGlyphs">5</text><text x="47.81" textLength="3.83" lengthAdjust="spacingAndGlyphs">.</text></g>
<g font-size="14.04" transform="translate(0 1084.00)" stroke="#fff" stroke-width="0.10"><text x="59.65" textLength="8.56" lengthAdjust="spacingAndGlyphs">P</text><text x="68.21" textLength="8.77" lengthAdjust="spacingAndGlyphs">R</text><text x="76.98" textLength="12.56" lengthAdjust="spacingAndGlyphs">O</text><text x="89.54" textLength="10.75" lengthAdjust="spacingAndGlyphs">D</text><text x="100.30" textLength="9.47" lengthAdjust="spacingAndGlyphs">U</text><text x="109.77" textLength="11.75" lengthAdjust="spacingAndGlyphs">C</text><text x="121.52" textLength="6.16" lengthAdjust="spacingAndGlyphs">T</text><text x="131.68" textLength="13.28" lengthAdjust="spacingAndGlyphs">M</text><text x="144.96" textLength="10.70" lengthAdjust="spacingAndGlyphs">A</text><text x="155.66" textLength="8.77" lengthAdjust="spacingAndGlyphs">R</text><text x="164.43" textLength="8.54" lengthAdjust="spacingAndGlyphs">K</text><text x="172.98" textLength="3.27" lengthAdjust="spacingAndGlyphs">I</text><text x="176.24" textLength="10.70" lengthAdjust="spacingAndGlyphs">N</text><text x="186.94" textLength="12.60" lengthAdjust="spacingAndGlyphs">G</text><text x="199.54" textLength="7.20" lengthAdjust="spacingAndGlyphs">S</text><text x="206.74" textLength="4.00" lengthAdjust="spacingAndGlyphs">:</text></g>
<g font-size="14.04" transform="translate(0 1102.30)" stroke="#fff" stroke-width="0.10"><text x="76.35" textLength="6.91" lengthAdjust="spacingAndGlyphs">J</text><text x="83.26" textLength="10.60" lengthAdjust="spacingAndGlyphs">A</text><text x="93.86" textLength="8.70" lengthAdjust="spacingAndGlyphs">R</text><text x="102.56" textLength="3.24" lengthAdjust="spacingAndGlyphs">I</text><text x="105.80" textLength="6.10" lengthAdjust="spacingAndGlyphs">T</text><text x="111.90" textLength="3.97" lengthAdjust="spacingAndGlyphs">,</text><text x="119.84" textLength="8.48" lengthAdjust="spacingAndGlyphs">P</text><text x="128.32" textLength="10.60" lengthAdjust="spacingAndGlyphs">A</text><text x="138.93" textLength="8.70" lengthAdjust="spacingAndGlyphs">R</text><text x="147.62" textLength="6.10" lengthAdjust="spacingAndGlyphs">T</text><text x="157.70" textLength="10.60" lengthAdjust="spacingAndGlyphs">N</text><text x="168.30" textLength="9.39" lengthAdjust="spacingAndGlyphs">U</text><text x="177.69" textLength="13.17" lengthAdjust="spacingAndGlyphs">M</text><text x="190.86" textLength="8.23" lengthAdjust="spacingAndGlyphs">B</text><text x="199.08" textLength="7.68" lengthAdjust="spacingAndGlyphs">E</text><text x="206.76" textLength="8.70" lengthAdjust="spacingAndGlyphs">R</text><text x="215.46" textLength="3.97" lengthAdjust="spacingAndGlyphs">,</text><text x="223.40" textLength="12.50" lengthAdjust="spacingAndGlyphs">G</text><text x="235.89" textLength="7.68" lengthAdjust="spacingAndGlyphs">E</text><text x="243.57" textLength="8.70" lengthAdjust="spacingAndGlyphs">R</text><text x="252.27" textLength="13.17" lengthAdjust="spacingAndGlyphs">M</text><text x="265.44" textLength="10.60" lengthAdjust="spacingAndGlyphs">A</text><text x="276.04" textLength="10.60" lengthAdjust="spacingAndGlyphs">N</text><text x="286.65" textLength="8.48" lengthAdjust="spacingAndGlyphs">Y</text><text x="299.10" textLength="7.14" lengthAdjust="spacingAndGlyphs">S</text><text x="306.24" textLength="6.10" lengthAdjust="spacingAndGlyphs">T</text><text x="312.34" textLength="10.60" lengthAdjust="spacingAndGlyphs">A</text><text x="322.94" textLength="3.24" lengthAdjust="spacingAndGlyphs">I</text><text x="326.18" textLength="10.60" lengthAdjust="spacingAndGlyphs">N</text><text x="336.79" textLength="6.62" lengthAdjust="spacingAndGlyphs">L</text><text x="343.41" textLength="7.68" lengthAdjust="spacingAndGlyphs">E</text><text x="351.09" textLength="7.14" lengthAdjust="spacingAndGlyphs">S</text><text x="358.22" textLength="7.14" lengthAdjust="spacingAndGlyphs">S</text><text x="365.36" textLength="3.97" lengthAdjust="spacingAndGlyphs">,</text><text x="373.30" textLength="8.70" lengthAdjust="spacingAndGlyphs">R</text><text x="381.99" textLength="12.45" lengthAdjust="spacingAndGlyphs">O</text><text x="394.45" textLength="6.10" lengthAdjust="spacingAndGlyphs">T</text><text x="400.55" textLength="12.45" lengthAdjust="spacingAndGlyphs">O</text><text x="413.00" textLength="4.76" lengthAdjust="spacingAndGlyphs">-</text><text x="417.76" textLength="6.62" lengthAdjust="spacingAndGlyphs">L</text><text x="424.38" textLength="12.45" lengthAdjust="spacingAndGlyphs">O</text><text x="436.83" textLength="8.47" lengthAdjust="spacingAndGlyphs">K</text><text x="445.30" textLength="3.97" lengthAdjust="spacingAndGlyphs">,</text><text x="453.24" textLength="11.65" lengthAdjust="spacingAndGlyphs">C</text><text x="464.89" textLength="7.68" lengthAdjust="spacingAndGlyphs">E</text><text x="476.54" textLength="13.17" lengthAdjust="spacingAndGlyphs">M</text><text x="489.71" textLength="10.60" lengthAdjust="spacingAndGlyphs">A</text><text x="500.31" textLength="8.70" lengthAdjust="spacingAndGlyphs">R</text><text x="509.01" textLength="8.47" lengthAdjust="spacingAndGlyphs">K</text><text x="517.48" textLength="3.97" lengthAdjust="spacingAndGlyphs">,</text></g>
<g font-size="14.04" transform="translate(0 1119.00)" stroke="#fff" stroke-width="0.10"><text x="76.35" textLength="6.92" lengthAdjust="spacingAndGlyphs">J</text><text x="83.27" textLength="10.62" lengthAdjust="spacingAndGlyphs">A</text><text x="93.89" textLength="8.71" lengthAdjust="spacingAndGlyphs">R</text><text x="102.60" textLength="3.24" lengthAdjust="spacingAndGlyphs">I</text><text x="105.84" textLength="6.11" lengthAdjust="spacingAndGlyphs">T</text><text x="115.93" textLength="12.47" lengthAdjust="spacingAndGlyphs">O</text><text x="128.40" textLength="10.62" lengthAdjust="spacingAndGlyphs">N</text><text x="143.00" textLength="6.92" lengthAdjust="spacingAndGlyphs">J</text><text x="149.91" textLength="10.62" lengthAdjust="spacingAndGlyphs">A</text><text x="160.53" textLength="13.78" lengthAdjust="spacingAndGlyphs">W</text><text x="178.28" textLength="7.69" lengthAdjust="spacingAndGlyphs">E</text><text x="185.98" textLength="10.62" lengthAdjust="spacingAndGlyphs">N</text><text x="196.59" textLength="10.68" lengthAdjust="spacingAndGlyphs">D</text><text x="207.27" textLength="3.98" lengthAdjust="spacingAndGlyphs">.</text></g>
<g font-size="14.04" transform="translate(0 1135.80)" stroke="#fff" stroke-width="0.10"><text x="40.15" textLength="7.66" lengthAdjust="spacingAndGlyphs">6</text><text x="47.81" textLength="3.83" lengthAdjust="spacingAndGlyphs">.</text></g>
<g font-size="14.04" transform="translate(0 1135.80)" stroke="#fff" stroke-width="0.10"><text x="59.65" textLength="3.24" lengthAdjust="spacingAndGlyphs">I</text><text x="62.89" textLength="6.96" lengthAdjust="spacingAndGlyphs">F</text><text x="69.85" textLength="9.39" lengthAdjust="spacingAndGlyphs">U</text><text x="79.24" textLength="3.97" lengthAdjust="spacingAndGlyphs">:</text><text x="87.19" textLength="10.61" lengthAdjust="spacingAndGlyphs">N</text><text x="97.80" textLength="12.46" lengthAdjust="spacingAndGlyphs">O</text><text x="110.27" textLength="6.11" lengthAdjust="spacingAndGlyphs">T</text><text x="120.35" textLength="3.24" lengthAdjust="spacingAndGlyphs">I</text><text x="123.59" textLength="10.61" lengthAdjust="spacingAndGlyphs">N</text><text x="134.20" textLength="11.66" lengthAdjust="spacingAndGlyphs">C</text><text x="145.86" textLength="6.63" lengthAdjust="spacingAndGlyphs">L</text><text x="152.49" textLength="9.39" lengthAdjust="spacingAndGlyphs">U</text><text x="161.89" textLength="10.67" lengthAdjust="spacingAndGlyphs">D</text><text x="172.56" textLength="7.69" lengthAdjust="spacingAndGlyphs">E</text><text x="180.24" textLength="10.67" lengthAdjust="spacingAndGlyphs">D</text><text x="194.89" textLength="13.77" lengthAdjust="spacingAndGlyphs">W</text><text x="208.66" textLength="3.24" lengthAdjust="spacingAndGlyphs">I</text><text x="211.90" textLength="6.11" lengthAdjust="spacingAndGlyphs">T</text><text x="218.01" textLength="9.80" lengthAdjust="spacingAndGlyphs">H</text><text x="231.78" textLength="8.49" lengthAdjust="spacingAndGlyphs">P</text><text x="240.27" textLength="8.71" lengthAdjust="spacingAndGlyphs">R</text><text x="248.97" textLength="12.46" lengthAdjust="spacingAndGlyphs">O</text><text x="261.44" textLength="10.67" lengthAdjust="spacingAndGlyphs">D</text><text x="272.11" textLength="9.39" lengthAdjust="spacingAndGlyphs">U</text><text x="281.50" textLength="11.66" lengthAdjust="spacingAndGlyphs">C</text><text x="293.16" textLength="6.11" lengthAdjust="spacingAndGlyphs">T</text><text x="299.27" textLength="3.97" lengthAdjust="spacingAndGlyphs">.</text></g>
<g font-size="14.04" transform="translate(0 1152.50)" stroke="#fff" stroke-width="0.10"><text x="40.15" textLength="7.66" lengthAdjust="spacingAndGlyphs">7</text><text x="47.81" textLength="3.83" lengthAdjust="spacingAndGlyphs">.</text></g>
<g font-size="14.04" transform="translate(0 1152.50)" stroke="#fff" stroke-width="0.10"><text x="59.65" textLength="8.49" lengthAdjust="spacingAndGlyphs">P</text><text x="68.14" textLength="10.61" lengthAdjust="spacingAndGlyphs">A</text><text x="78.74" textLength="11.65" lengthAdjust="spacingAndGlyphs">C</text><text x="90.40" textLength="8.47" lengthAdjust="spacingAndGlyphs">K</text><text x="98.87" textLength="10.61" lengthAdjust="spacingAndGlyphs">A</text><text x="109.48" textLength="12.50" lengthAdjust="spacingAndGlyphs">G</text><text x="121.98" textLength="3.24" lengthAdjust="spacingAndGlyphs">I</text><text x="125.22" textLength="10.61" lengthAdjust="spacingAndGlyphs">N</text><text x="135.82" textLength="12.50" lengthAdjust="spacingAndGlyphs">G</text><text x="148.32" textLength="3.97" lengthAdjust="spacingAndGlyphs">:</text><text x="156.26" textLength="11.65" lengthAdjust="spacingAndGlyphs">C</text><text x="167.92" textLength="6.62" lengthAdjust="spacingAndGlyphs">L</text><text x="174.54" textLength="7.68" lengthAdjust="spacingAndGlyphs">E</text><text x="182.22" textLength="10.61" lengthAdjust="spacingAndGlyphs">A</text><text x="192.83" textLength="8.70" lengthAdjust="spacingAndGlyphs">R</text><text x="205.50" textLength="8.49" lengthAdjust="spacingAndGlyphs">P</text><text x="213.99" textLength="6.62" lengthAdjust="spacingAndGlyphs">L</text><text x="220.61" textLength="10.61" lengthAdjust="spacingAndGlyphs">A</text><text x="231.22" textLength="7.14" lengthAdjust="spacingAndGlyphs">S</text><text x="238.35" textLength="6.11" lengthAdjust="spacingAndGlyphs">T</text><text x="244.46" textLength="3.24" lengthAdjust="spacingAndGlyphs">I</text><text x="247.70" textLength="11.65" lengthAdjust="spacingAndGlyphs">C</text><text x="263.32" textLength="8.23" lengthAdjust="spacingAndGlyphs">B</text><text x="271.55" textLength="10.61" lengthAdjust="spacingAndGlyphs">A</text><text x="282.16" textLength="12.50" lengthAdjust="spacingAndGlyphs">G</text><text x="298.63" textLength="13.76" lengthAdjust="spacingAndGlyphs">W</text><text x="312.39" textLength="3.24" lengthAdjust="spacingAndGlyphs">I</text><text x="315.63" textLength="6.11" lengthAdjust="spacingAndGlyphs">T</text><text x="321.74" textLength="9.79" lengthAdjust="spacingAndGlyphs">H</text><text x="335.50" textLength="8.49" lengthAdjust="spacingAndGlyphs">P</text><text x="343.98" textLength="8.70" lengthAdjust="spacingAndGlyphs">R</text><text x="352.68" textLength="12.46" lengthAdjust="spacingAndGlyphs">O</text><text x="365.14" textLength="6.11" lengthAdjust="spacingAndGlyphs">T</text><text x="371.25" textLength="7.68" lengthAdjust="spacingAndGlyphs">E</text><text x="378.93" textLength="11.65" lengthAdjust="spacingAndGlyphs">C</text><text x="390.58" textLength="6.11" lengthAdjust="spacingAndGlyphs">T</text><text x="396.69" textLength="3.24" lengthAdjust="spacingAndGlyphs">I</text><text x="399.93" textLength="10.06" lengthAdjust="spacingAndGlyphs">V</text><text x="409.99" textLength="7.68" lengthAdjust="spacingAndGlyphs">E</text><text x="421.64" textLength="6.11" lengthAdjust="spacingAndGlyphs">T</text><text x="427.75" textLength="3.24" lengthAdjust="spacingAndGlyphs">I</text><text x="430.99" textLength="8.49" lengthAdjust="spacingAndGlyphs">P</text><text x="439.48" textLength="3.97" lengthAdjust="spacingAndGlyphs">.</text></g>
<g font-size="14.04" transform="translate(0 1170.00)" stroke="#fff" stroke-width="0.10"><text x="40.15" textLength="7.66" lengthAdjust="spacingAndGlyphs">8</text><text x="47.81" textLength="3.83" lengthAdjust="spacingAndGlyphs">.</text></g>
<g font-size="14.04" transform="translate(0 1170.00)" stroke="#fff" stroke-width="0.10"><text x="59.65" textLength="6.63" lengthAdjust="spacingAndGlyphs">L</text><text x="66.28" textLength="10.62" lengthAdjust="spacingAndGlyphs">A</text><text x="76.90" textLength="8.24" lengthAdjust="spacingAndGlyphs">B</text><text x="85.14" textLength="7.69" lengthAdjust="spacingAndGlyphs">E</text><text x="92.83" textLength="6.63" lengthAdjust="spacingAndGlyphs">L</text><text x="99.46" textLength="3.24" lengthAdjust="spacingAndGlyphs">I</text><text x="102.71" textLength="10.62" lengthAdjust="spacingAndGlyphs">N</text><text x="113.33" textLength="12.51" lengthAdjust="spacingAndGlyphs">G</text><text x="125.84" textLength="3.98" lengthAdjust="spacingAndGlyphs">:</text><text x="133.79" textLength="8.50" lengthAdjust="spacingAndGlyphs">P</text><text x="142.29" textLength="8.71" lengthAdjust="spacingAndGlyphs">R</text><text x="151.00" textLength="12.47" lengthAdjust="spacingAndGlyphs">O</text><text x="163.47" textLength="10.68" lengthAdjust="spacingAndGlyphs">D</text><text x="174.15" textLength="9.40" lengthAdjust="spacingAndGlyphs">U</text><text x="183.55" textLength="11.67" lengthAdjust="spacingAndGlyphs">C</text><text x="195.22" textLength="6.11" lengthAdjust="spacingAndGlyphs">T</text><text x="205.31" textLength="7.15" lengthAdjust="spacingAndGlyphs">S</text><text x="212.45" textLength="9.80" lengthAdjust="spacingAndGlyphs">H</text><text x="222.26" textLength="10.62" lengthAdjust="spacingAndGlyphs">A</text><text x="232.88" textLength="6.63" lengthAdjust="spacingAndGlyphs">L</text><text x="239.51" textLength="6.63" lengthAdjust="spacingAndGlyphs">L</text><text x="250.11" textLength="8.24" lengthAdjust="spacingAndGlyphs">B</text><text x="258.35" textLength="7.69" lengthAdjust="spacingAndGlyphs">E</text><text x="270.02" textLength="7.15" lengthAdjust="spacingAndGlyphs">S</text><text x="277.17" textLength="9.40" lengthAdjust="spacingAndGlyphs">U</text><text x="286.57" textLength="8.50" lengthAdjust="spacingAndGlyphs">P</text><text x="295.06" textLength="8.50" lengthAdjust="spacingAndGlyphs">P</text><text x="303.56" textLength="6.63" lengthAdjust="spacingAndGlyphs">L</text><text x="310.19" textLength="3.24" lengthAdjust="spacingAndGlyphs">I</text><text x="313.43" textLength="7.69" lengthAdjust="spacingAndGlyphs">E</text><text x="321.13" textLength="10.68" lengthAdjust="spacingAndGlyphs">D</text><text x="335.78" textLength="13.78" lengthAdjust="spacingAndGlyphs">W</text><text x="349.56" textLength="3.24" lengthAdjust="spacingAndGlyphs">I</text><text x="352.80" textLength="6.11" lengthAdjust="spacingAndGlyphs">T</text><text x="358.91" textLength="9.80" lengthAdjust="spacingAndGlyphs">H</text><text x="372.69" textLength="10.62" lengthAdjust="spacingAndGlyphs">A</text><text x="383.31" textLength="8.50" lengthAdjust="spacingAndGlyphs">P</text><text x="391.81" textLength="8.50" lengthAdjust="spacingAndGlyphs">P</text><text x="400.30" textLength="8.71" lengthAdjust="spacingAndGlyphs">R</text><text x="409.02" textLength="12.47" lengthAdjust="spacingAndGlyphs">O</text><text x="421.49" textLength="10.07" lengthAdjust="spacingAndGlyphs">V</text><text x="431.56" textLength="7.69" lengthAdjust="spacingAndGlyphs">E</text><text x="439.26" textLength="10.68" lengthAdjust="spacingAndGlyphs">D</text><text x="453.91" textLength="8.50" lengthAdjust="spacingAndGlyphs">P</text><text x="462.40" textLength="8.71" lengthAdjust="spacingAndGlyphs">R</text><text x="471.12" textLength="12.47" lengthAdjust="spacingAndGlyphs">O</text><text x="483.59" textLength="10.68" lengthAdjust="spacingAndGlyphs">D</text><text x="494.27" textLength="9.40" lengthAdjust="spacingAndGlyphs">U</text><text x="503.67" textLength="11.67" lengthAdjust="spacingAndGlyphs">C</text><text x="515.33" textLength="6.11" lengthAdjust="spacingAndGlyphs">T</text></g>
<g font-size="14.04" transform="translate(0 1188.00)" stroke="#fff" stroke-width="0.10"><text x="59.65" textLength="3.25" lengthAdjust="spacingAndGlyphs">I</text><text x="62.90" textLength="10.69" lengthAdjust="spacingAndGlyphs">D</text><text x="73.59" textLength="7.70" lengthAdjust="spacingAndGlyphs">E</text><text x="81.28" textLength="10.63" lengthAdjust="spacingAndGlyphs">N</text><text x="91.92" textLength="6.12" lengthAdjust="spacingAndGlyphs">T</text><text x="98.03" textLength="3.25" lengthAdjust="spacingAndGlyphs">I</text><text x="101.28" textLength="6.97" lengthAdjust="spacingAndGlyphs">F</text><text x="108.25" textLength="3.25" lengthAdjust="spacingAndGlyphs">I</text><text x="111.49" textLength="11.68" lengthAdjust="spacingAndGlyphs">C</text><text x="123.17" textLength="10.63" lengthAdjust="spacingAndGlyphs">A</text><text x="133.80" textLength="6.12" lengthAdjust="spacingAndGlyphs">T</text><text x="139.92" textLength="3.25" lengthAdjust="spacingAndGlyphs">I</text><text x="143.17" textLength="12.48" lengthAdjust="spacingAndGlyphs">O</text><text x="155.65" textLength="10.63" lengthAdjust="spacingAndGlyphs">N</text><text x="170.26" textLength="6.64" lengthAdjust="spacingAndGlyphs">L</text><text x="176.90" textLength="10.63" lengthAdjust="spacingAndGlyphs">A</text><text x="187.53" textLength="8.25" lengthAdjust="spacingAndGlyphs">B</text><text x="195.78" textLength="7.70" lengthAdjust="spacingAndGlyphs">E</text><text x="203.48" textLength="6.64" lengthAdjust="spacingAndGlyphs">L</text><text x="210.11" textLength="5.30" lengthAdjust="spacingAndGlyphs">(</text><text x="215.41" textLength="7.15" lengthAdjust="spacingAndGlyphs">S</text><text x="222.57" textLength="5.30" lengthAdjust="spacingAndGlyphs">)</text><text x="227.87" textLength="3.98" lengthAdjust="spacingAndGlyphs">.</text></g>
</g>
</svg>
</body></html>
